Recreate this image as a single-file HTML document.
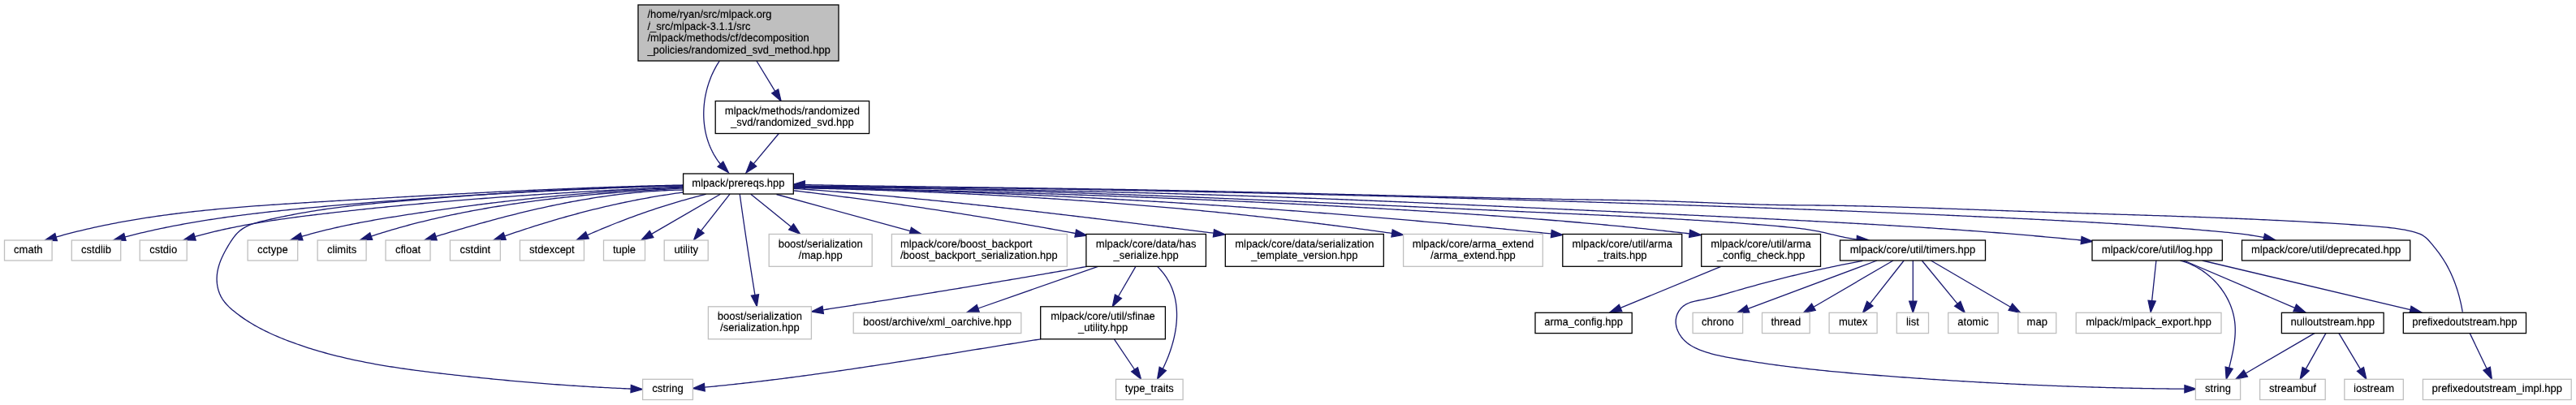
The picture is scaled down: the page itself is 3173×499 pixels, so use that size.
<!DOCTYPE html>
<html><head><meta charset="utf-8"><style>
html,body{margin:0;padding:0;background:#fff;width:3173px;height:499px;overflow:hidden}
svg{display:block;will-change:transform}
text{font-family:"Liberation Sans",sans-serif;font-size:13px;fill:#000}
.t2{fill-opacity:.45}
</style></head><body>
<svg width="3173" height="499" viewBox="0 0 3173 499">
<rect width="3173" height="499" fill="#fff"/>

<g fill="none" stroke="#191970" stroke-width="1.3" stroke-linejoin="round">
<path d="M931.9,75 L954.66,112.41"/>
<path d="M886.3,75 L884.49,77.81 L882.76,80.67 L881.12,83.6 L879.56,86.58 L878.09,89.61 L876.85,92.34 L875.68,95.11 L874.57,97.91 L873.54,100.75 L872.58,103.61 L871.69,106.49 L870.87,109.4 L870.12,112.33 L869.45,115.28 L868.85,118.25 L868.32,121.23 L867.87,124.22 L867.5,127.22 L867.2,130.23 L866.97,133.24 L866.83,136.26 L866.76,139.27 L866.77,142.28 L866.86,145.29 L867.03,148.29 L867.28,151.28 L867.67,154.64 L868.15,157.97 L868.74,161.28 L869.43,164.57 L870.23,167.82 L871.14,171.05 L872.16,174.24 L873.28,177.4 L874.52,180.51 L875.87,183.57 L877.33,186.59 L878.9,189.56 L880.59,192.47 L882.39,195.32 L884.09,197.81 L885.88,200.24 L887.38,202.15"/>
<path d="M959.3,164.5 L928.18,201.86"/>
<path d="M841.5,228 L838.49,228.06 L835.48,228.13 L832.46,228.19 L829.45,228.26 L826.44,228.33 L823.43,228.4 L820.42,228.47 L817.41,228.55 L814.4,228.62 L811.39,228.7 L808.38,228.77 L805.37,228.85 L802.36,228.93 L799.35,229.01 L796.34,229.1 L793.33,229.18 L790.32,229.27 L787.32,229.36 L784.31,229.44 L781.3,229.53 L778.29,229.62 L775.28,229.72 L772.28,229.81 L769.27,229.91 L766.26,230 L763.26,230.1 L760.25,230.2 L757.24,230.3 L754.24,230.4 L751.23,230.5 L748.23,230.61 L745.22,230.71 L742.22,230.82 L739.21,230.92 L736.21,231.03 L733.2,231.14 L730.2,231.25 L727.19,231.37 L724.19,231.48 L721.18,231.59 L718.18,231.71 L715.18,231.82 L712.17,231.94 L709.17,232.06 L706.17,232.18 L703.16,232.3 L700.16,232.42 L697.16,232.55 L694.15,232.67 L691.15,232.79 L688.15,232.92 L685.15,233.05 L682.14,233.18 L679.14,233.31 L676.14,233.43 L673.14,233.57 L670.14,233.7 L667.13,233.83 L664.13,233.96 L661.13,234.1 L658.13,234.24 L655.13,234.37 L652.13,234.51 L649.12,234.65 L646.12,234.79 L643.12,234.93 L640.12,235.07 L637.12,235.21 L634.12,235.35 L631.12,235.5 L628.12,235.64 L625.12,235.79 L622.11,235.93 L619.11,236.08 L616.11,236.23 L613.11,236.37 L610.11,236.52 L607.11,236.67 L604.11,236.82 L601.11,236.98 L598.11,237.13 L595.11,237.28 L592.11,237.43 L589.11,237.59 L586.11,237.74 L583.11,237.9 L580.11,238.06 L577.11,238.21 L574.1,238.37 L571.1,238.53 L568.1,238.69 L565.1,238.85 L562.1,239.01 L559.1,239.17 L556.1,239.33 L553.1,239.49 L550.1,239.65 L547.1,239.82 L544.1,239.98 L541.1,240.15 L538.1,240.31 L535.09,240.48 L532.09,240.64 L529.09,240.81 L526.09,240.97 L523.09,241.14 L520.09,241.31 L517.09,241.48 L514.09,241.65 L511.08,241.82 L508.08,241.98 L505.08,242.15 L502.08,242.33 L499.08,242.5 L496.08,242.67 L493.07,242.84 L490.07,243.01 L487.07,243.18 L484.07,243.36 L481.06,243.53 L478.06,243.7 L475.06,243.88 L472.06,244.05 L469.05,244.22 L466.05,244.4 L463.05,244.57 L460.04,244.75 L457.04,244.93 L454.04,245.1 L451.03,245.28 L448.03,245.45 L445.03,245.63 L442.02,245.81 L439.02,245.98 L436.01,246.16 L433.01,246.34 L430,246.52 L427,246.69 L423.99,246.87 L420.99,247.05 L417.98,247.23 L414.98,247.41 L411.97,247.59 L408.96,247.76 L405.96,247.94 L402.95,248.12 L399.94,248.3 L396.94,248.48 L393.93,248.66 L390.92,248.84 L387.92,249.02 L384.91,249.2 L381.9,249.38 L378.89,249.56 L375.89,249.74 L372.88,249.93 L369.87,250.11 L366.86,250.3 L363.86,250.48 L360.85,250.67 L357.84,250.86 L354.83,251.05 L351.83,251.25 L348.82,251.44 L345.81,251.64 L342.8,251.83 L339.8,252.03 L336.79,252.24 L333.78,252.44 L330.78,252.65 L327.77,252.86 L324.77,253.07 L321.76,253.28 L318.76,253.5 L315.75,253.72 L312.75,253.94 L309.74,254.17 L306.74,254.4 L303.74,254.63 L300.74,254.86 L297.73,255.1 L294.73,255.35 L291.73,255.59 L288.73,255.84 L285.73,256.1 L282.73,256.35 L279.73,256.61 L276.74,256.88 L273.74,257.15 L270.74,257.42 L267.75,257.7 L264.75,257.99 L261.76,258.28 L258.76,258.57 L255.77,258.87 L252.78,259.17 L249.79,259.48 L246.8,259.79 L243.81,260.11 L240.82,260.43 L237.83,260.76 L234.84,261.1 L231.86,261.44 L228.87,261.78 L225.89,262.13 L222.91,262.49 L219.92,262.86 L216.94,263.23 L213.96,263.6 L210.98,263.99 L208.01,264.38 L205.03,264.77 L202.05,265.17 L199.08,265.58 L196.11,266 L193.13,266.42 L190.16,266.85 L187.19,267.29 L184.23,267.74 L181.26,268.19 L178.29,268.65 L175.33,269.12 L172.37,269.59 L169.41,270.08 L166.45,270.57 L163.49,271.07 L160.53,271.57 L157.57,272.09 L154.62,272.61 L151.67,273.14 L148.72,273.69 L145.77,274.23 L142.82,274.79 L139.87,275.36 L136.93,275.94 L133.98,276.52 L131.04,277.11 L128.1,277.72 L125.16,278.33 L122.23,278.95 L119.29,279.58 L116.36,280.23 L113.43,280.88 L110.5,281.54 L107.57,282.21 L104.64,282.89 L101.72,283.58 L98.8,284.28 L95.88,284.99 L92.96,285.71 L90.04,286.45 L87.13,287.19 L84.21,287.94 L81.3,288.71 L78.39,289.49 L75.49,290.27 L72.58,291.07 L69.68,291.88 L69.12,292.04"/>
<path d="M841.5,228.5 L838.5,228.6 L835.5,228.7 L832.5,228.8 L829.5,228.9 L826.5,229 L823.51,229.11 L820.51,229.21 L817.51,229.32 L814.51,229.42 L811.51,229.53 L808.51,229.64 L805.51,229.74 L802.51,229.85 L799.51,229.96 L796.51,230.07 L793.51,230.19 L790.51,230.3 L787.51,230.41 L784.51,230.53 L781.51,230.64 L778.51,230.76 L775.51,230.88 L772.5,230.99 L769.5,231.11 L766.5,231.23 L763.5,231.35 L760.5,231.48 L757.5,231.6 L754.5,231.72 L751.5,231.85 L748.5,231.97 L745.5,232.1 L742.5,232.23 L739.49,232.35 L736.49,232.48 L733.49,232.61 L730.49,232.75 L727.49,232.88 L724.49,233.01 L721.49,233.15 L718.49,233.28 L715.48,233.42 L712.48,233.55 L709.48,233.69 L706.48,233.83 L703.48,233.97 L700.48,234.11 L697.48,234.26 L694.47,234.4 L691.47,234.54 L688.47,234.69 L685.47,234.84 L682.47,234.98 L679.47,235.13 L676.47,235.28 L673.46,235.43 L670.46,235.58 L667.46,235.74 L664.46,235.89 L661.46,236.05 L658.46,236.2 L655.46,236.36 L652.46,236.52 L649.45,236.68 L646.45,236.84 L643.45,237 L640.45,237.16 L637.45,237.33 L634.45,237.49 L631.45,237.66 L628.45,237.82 L625.45,237.99 L622.44,238.16 L619.44,238.33 L616.44,238.51 L613.44,238.68 L610.44,238.85 L607.44,239.03 L604.44,239.21 L601.44,239.38 L598.44,239.56 L595.44,239.74 L592.44,239.92 L589.44,240.11 L586.44,240.29 L583.44,240.47 L580.44,240.66 L577.44,240.85 L574.44,241.04 L571.44,241.23 L568.44,241.42 L565.44,241.61 L562.44,241.8 L559.44,242 L556.44,242.19 L553.44,242.39 L550.44,242.59 L547.44,242.79 L544.44,242.99 L541.44,243.19 L538.44,243.4 L535.45,243.6 L532.45,243.81 L529.45,244.02 L526.45,244.23 L523.45,244.44 L520.45,244.65 L517.46,244.86 L514.46,245.07 L511.46,245.29 L508.46,245.51 L505.47,245.72 L502.47,245.94 L499.47,246.17 L496.47,246.39 L493.48,246.61 L490.48,246.84 L487.48,247.06 L484.49,247.29 L481.49,247.52 L478.49,247.75 L475.5,247.98 L472.5,248.21 L469.51,248.45 L466.51,248.68 L463.51,248.92 L460.52,249.16 L457.52,249.4 L454.53,249.64 L451.53,249.88 L448.54,250.13 L445.54,250.38 L442.55,250.62 L439.55,250.87 L436.56,251.12 L433.57,251.37 L430.57,251.63 L427.58,251.88 L424.59,252.14 L421.59,252.39 L418.6,252.65 L415.61,252.91 L412.61,253.18 L409.62,253.44 L406.63,253.7 L403.64,253.97 L400.65,254.24 L397.65,254.51 L394.66,254.78 L391.67,255.05 L388.68,255.33 L385.69,255.6 L382.7,255.88 L379.71,256.16 L376.72,256.44 L373.73,256.73 L370.74,257.02 L367.75,257.31 L364.76,257.6 L361.78,257.89 L358.79,258.19 L355.8,258.49 L352.81,258.8 L349.83,259.11 L346.84,259.42 L343.86,259.73 L340.87,260.05 L337.89,260.37 L334.9,260.7 L331.92,261.02 L328.94,261.36 L325.96,261.69 L322.97,262.04 L319.99,262.38 L317.01,262.73 L314.03,263.08 L311.05,263.44 L308.07,263.81 L305.1,264.17 L302.12,264.55 L299.14,264.93 L296.17,265.31 L293.19,265.7 L290.22,266.09 L287.25,266.49 L284.27,266.89 L280.31,267.44 L276.35,268 L272.39,268.57 L268.43,269.15 L265.47,269.59 L262.5,270.04 L259.53,270.49 L256.57,270.96 L253.61,271.42 L250.64,271.9 L247.68,272.38 L244.72,272.87 L241.76,273.36 L238.8,273.87 L235.84,274.38 L232.89,274.89 L229.93,275.42 L226.98,275.95 L224.02,276.49 L221.07,277.04 L218.12,277.59 L215.17,278.16 L212.22,278.73 L209.28,279.31 L206.33,279.9 L203.38,280.49 L200.44,281.1 L197.5,281.71 L194.56,282.34 L191.62,282.97 L188.68,283.61 L185.74,284.26 L182.8,284.92 L179.87,285.58 L176.93,286.26 L174,286.95 L171.07,287.64 L168.14,288.35 L165.21,289.07 L162.29,289.79 L159.36,290.53 L156.44,291.28 L153.9,291.93"/>
<path d="M841.5,230 L838.5,230.13 L835.5,230.27 L832.51,230.41 L829.51,230.55 L826.51,230.68 L823.51,230.82 L820.51,230.96 L817.52,231.1 L814.52,231.25 L811.52,231.39 L808.52,231.53 L805.52,231.68 L802.52,231.82 L799.52,231.97 L796.52,232.11 L793.52,232.26 L790.53,232.41 L787.53,232.56 L784.53,232.71 L781.53,232.86 L778.53,233.01 L775.53,233.17 L772.53,233.32 L769.53,233.48 L766.53,233.63 L763.53,233.79 L760.53,233.95 L757.53,234.11 L754.53,234.27 L751.52,234.43 L748.52,234.59 L745.52,234.76 L742.52,234.92 L739.52,235.09 L736.52,235.26 L733.52,235.42 L730.52,235.59 L727.52,235.76 L724.52,235.93 L721.52,236.11 L718.52,236.28 L715.52,236.45 L712.52,236.63 L709.51,236.81 L706.51,236.99 L703.51,237.16 L700.51,237.35 L697.51,237.53 L694.51,237.71 L691.51,237.89 L688.51,238.08 L685.51,238.27 L682.51,238.45 L679.51,238.64 L676.5,238.83 L673.5,239.03 L670.5,239.22 L667.5,239.41 L664.5,239.61 L661.5,239.81 L658.5,240 L655.5,240.2 L652.5,240.41 L649.5,240.61 L646.5,240.81 L643.5,241.02 L640.5,241.22 L637.5,241.43 L634.5,241.64 L631.5,241.85 L628.5,242.06 L625.5,242.28 L622.5,242.49 L619.5,242.71 L616.5,242.93 L613.5,243.15 L610.5,243.37 L607.5,243.59 L604.5,243.81 L601.5,244.04 L598.51,244.27 L595.51,244.5 L592.51,244.73 L589.51,244.96 L586.51,245.19 L583.51,245.42 L580.52,245.66 L577.52,245.9 L574.52,246.14 L571.52,246.38 L568.52,246.62 L565.53,246.87 L562.53,247.11 L559.53,247.36 L556.54,247.61 L553.54,247.86 L550.54,248.11 L547.55,248.37 L544.55,248.62 L541.55,248.88 L538.56,249.14 L535.56,249.4 L532.57,249.66 L529.57,249.93 L526.58,250.2 L523.58,250.46 L520.59,250.73 L517.59,251 L514.6,251.28 L511.6,251.55 L508.61,251.83 L505.62,252.11 L502.62,252.39 L499.63,252.67 L496.64,252.96 L493.64,253.24 L490.65,253.53 L487.66,253.82 L484.67,254.11 L481.68,254.41 L478.68,254.7 L475.69,255 L472.7,255.3 L469.71,255.6 L466.72,255.9 L463.73,256.21 L460.74,256.52 L457.75,256.83 L454.76,257.14 L451.77,257.45 L448.78,257.76 L445.79,258.08 L442.81,258.4 L439.82,258.72 L436.83,259.05 L433.84,259.37 L430.86,259.7 L427.87,260.03 L424.88,260.36 L421.9,260.69 L418.91,261.03 L415.93,261.37 L412.94,261.71 L409.95,262.05 L406.97,262.39 L403.99,262.74 L401,263.09 L398.02,263.44 L395.04,263.79 L392.05,264.14 L389.07,264.5 L386.09,264.86 L383.11,265.23 L380.13,265.6 L377.15,265.97 L374.17,266.34 L371.19,266.72 L368.21,267.11 L365.23,267.5 L362.26,267.89 L359.28,268.29 L356.31,268.69 L353.33,269.1 L350.36,269.52 L347.39,269.94 L344.42,270.37 L341.45,270.8 L338.48,271.25 L335.51,271.69 L332.55,272.15 L329.58,272.61 L326.62,273.09 L323.66,273.56 L320.7,274.05 L317.74,274.55 L314.78,275.05 L311.83,275.57 L308.87,276.09 L305.92,276.62 L302.97,277.16 L300.02,277.71 L297.07,278.28 L294.13,278.85 L291.18,279.43 L288.24,280.02 L285.3,280.63 L282.36,281.24 L279.43,281.87 L276.49,282.51 L273.56,283.16 L270.63,283.83 L267.7,284.5 L264.78,285.19 L261.85,285.89 L258.93,286.61 L256.01,287.33 L253.1,288.08 L250.18,288.83 L247.27,289.6 L244.36,290.38 L241.46,291.18 L239.91,291.61"/>
<path d="M841.5,231 L838.5,231.12 L835.5,231.24 L832.5,231.36 L829.5,231.49 L826.5,231.62 L823.5,231.76 L820.5,231.9 L817.5,232.04 L814.5,232.18 L811.5,232.33 L808.5,232.49 L805.5,232.64 L802.5,232.8 L799.5,232.96 L796.5,233.13 L793.5,233.29 L790.5,233.47 L787.5,233.64 L784.51,233.82 L781.51,234 L778.51,234.19 L775.51,234.38 L772.51,234.57 L769.51,234.76 L766.51,234.96 L763.51,235.16 L760.51,235.37 L757.51,235.57 L754.51,235.78 L751.52,236 L748.52,236.22 L745.52,236.44 L742.52,236.66 L739.52,236.89 L736.53,237.12 L733.53,237.35 L730.53,237.59 L727.53,237.83 L724.54,238.07 L721.54,238.32 L718.54,238.56 L715.55,238.82 L712.55,239.07 L709.55,239.33 L706.56,239.59 L703.56,239.86 L700.57,240.12 L697.57,240.39 L694.57,240.67 L691.58,240.95 L688.58,241.22 L685.59,241.51 L682.6,241.79 L679.6,242.08 L676.61,242.37 L673.61,242.67 L670.62,242.97 L667.63,243.27 L664.63,243.57 L661.64,243.88 L658.65,244.19 L655.66,244.5 L652.67,244.82 L649.67,245.14 L646.68,245.46 L643.69,245.78 L640.7,246.11 L637.71,246.44 L634.72,246.78 L631.73,247.11 L628.74,247.45 L625.75,247.8 L622.76,248.14 L619.78,248.49 L616.79,248.84 L613.8,249.19 L610.81,249.55 L607.83,249.91 L604.84,250.27 L601.85,250.64 L598.87,251.01 L595.88,251.38 L592.9,251.75 L589.91,252.13 L586.93,252.51 L583.94,252.89 L580.96,253.27 L577.98,253.66 L574.99,254.05 L572.01,254.44 L569.03,254.84 L566.05,255.24 L563.07,255.64 L560.09,256.04 L557.11,256.45 L554.13,256.86 L551.15,257.27 L548.17,257.69 L545.19,258.11 L542.21,258.53 L539.24,258.95 L536.26,259.37 L533.28,259.8 L530.31,260.23 L527.33,260.67 L524.36,261.1 L521.38,261.54 L518.41,261.99 L515.44,262.43 L512.46,262.88 L509.49,263.33 L506.52,263.78 L503.55,264.23 L500.58,264.69 L497.61,265.15 L494.64,265.61 L491.67,266.08 L488.7,266.55 L485.74,267.02 L482.77,267.5 L479.8,267.98 L476.84,268.46 L473.88,268.96 L470.91,269.45 L467.95,269.95 L464.99,270.46 L462.03,270.97 L459.08,271.49 L456.12,272.02 L453.16,272.55 L450.21,273.09 L447.26,273.64 L444.31,274.2 L441.36,274.76 L438.41,275.33 L435.47,275.91 L432.53,276.51 L429.58,277.11 L426.64,277.71 L423.71,278.33 L420.77,278.96 L417.84,279.6 L414.91,280.25 L411.98,280.92 L409.05,281.59 L406.13,282.28 L403.21,282.97 L400.29,283.68 L397.37,284.41 L394.46,285.14 L391.55,285.89 L388.64,286.65 L385.73,287.43 L382.83,288.22 L379.93,289.02 L377.03,289.84 L374.14,290.68 L371.65,291.41"/>
<path d="M841.5,232 L837.51,232.2 L833.52,232.41 L829.53,232.62 L825.54,232.84 L821.54,233.06 L818.55,233.23 L815.55,233.4 L812.55,233.57 L809.56,233.75 L806.56,233.93 L803.56,234.11 L800.56,234.3 L797.56,234.49 L794.56,234.68 L791.56,234.88 L788.56,235.08 L785.56,235.28 L782.56,235.49 L779.55,235.7 L776.55,235.91 L773.55,236.13 L770.55,236.35 L767.54,236.57 L764.54,236.8 L761.54,237.03 L758.54,237.26 L755.53,237.5 L752.53,237.75 L749.53,237.99 L746.52,238.24 L743.52,238.5 L740.52,238.76 L737.52,239.02 L734.51,239.29 L731.51,239.56 L728.51,239.83 L725.51,240.11 L722.5,240.4 L719.5,240.69 L716.5,240.98 L713.5,241.28 L710.5,241.58 L707.5,241.89 L704.5,242.2 L701.5,242.52 L698.5,242.84 L695.5,243.17 L692.5,243.5 L689.51,243.83 L686.51,244.17 L683.51,244.52 L680.52,244.87 L677.52,245.23 L674.53,245.59 L671.53,245.96 L668.54,246.33 L665.55,246.71 L662.56,247.09 L659.57,247.48 L656.58,247.88 L653.59,248.28 L650.6,248.68 L647.61,249.09 L644.62,249.51 L641.64,249.93 L638.65,250.36 L635.67,250.8 L632.69,251.24 L629.71,251.68 L626.73,252.14 L623.75,252.59 L620.77,253.06 L617.79,253.53 L614.82,254.01 L611.84,254.49 L608.87,254.98 L605.9,255.48 L602.93,255.98 L599.96,256.49 L596.99,257.01 L594.02,257.53 L591.06,258.06 L588.09,258.59 L585.13,259.14 L582.17,259.69 L579.21,260.24 L576.25,260.81 L573.3,261.38 L570.34,261.96 L567.39,262.55 L564.44,263.14 L561.49,263.74 L558.54,264.35 L555.6,264.97 L552.65,265.59 L549.71,266.23 L546.77,266.87 L543.83,267.52 L540.9,268.17 L537.97,268.84 L535.03,269.51 L532.11,270.19 L529.18,270.89 L526.25,271.59 L523.33,272.29 L520.41,273.01 L517.49,273.74 L514.58,274.47 L511.66,275.22 L508.75,275.97 L505.84,276.73 L502.94,277.5 L500.03,278.29 L497.13,279.08 L494.24,279.88 L491.34,280.69 L488.45,281.51 L485.56,282.34 L482.67,283.18 L479.78,284.03 L476.9,284.89 L474.02,285.76 L471.15,286.64 L468.27,287.53 L465.4,288.43 L462.54,289.34 L459.67,290.27 L457.24,291.06"/>
<path d="M841.5,234 L838.22,234.06 L834.93,234.13 L831.65,234.22 L828.38,234.33 L825.1,234.45 L821.83,234.58 L818.55,234.73 L815.28,234.9 L812.02,235.08 L808.75,235.27 L805.49,235.48 L802.22,235.71 L798.96,235.94 L795.71,236.2 L792.45,236.46 L789.19,236.74 L785.94,237.03 L782.69,237.34 L779.44,237.66 L776.2,237.99 L772.95,238.34 L769.71,238.7 L766.47,239.07 L763.23,239.46 L759.99,239.85 L756.76,240.26 L753.52,240.68 L750.29,241.12 L747.06,241.57 L743.84,242.02 L740.61,242.49 L737.39,242.98 L734.16,243.47 L730.94,243.97 L727.72,244.49 L724.51,245.02 L721.29,245.56 L718.08,246.11 L714.87,246.67 L711.66,247.24 L708.45,247.82 L705.25,248.41 L702.04,249.01 L698.84,249.62 L695.64,250.24 L692.44,250.88 L689.24,251.52 L686.05,252.17 L682.86,252.83 L679.67,253.5 L676.48,254.18 L673.29,254.87 L670.1,255.56 L666.92,256.27 L663.73,256.98 L660.55,257.7 L657.37,258.44 L654.2,259.17 L651.02,259.92 L647.85,260.68 L644.67,261.44 L641.5,262.21 L638.33,262.99 L635.17,263.78 L632,264.57 L628.84,265.37 L625.68,266.18 L622.51,266.99 L619.36,267.82 L616.2,268.64 L613.04,269.48 L609.89,270.32 L606.74,271.17 L603.59,272.02 L600.44,272.88 L597.29,273.75 L594.14,274.62 L591,275.49 L587.86,276.38 L584.71,277.26 L581.58,278.16 L578.44,279.06 L575.3,279.96 L572.17,280.87 L569.03,281.78 L565.9,282.7 L562.77,283.62 L559.64,284.54 L556.52,285.47 L553.39,286.41 L550.27,287.35 L547.15,288.29 L544.02,289.23 L540.91,290.18 L537.79,291.13 L536.85,291.42"/>
<path d="M841.5,237 L838.49,237.4 L835.48,237.81 L832.48,238.23 L829.48,238.67 L826.48,239.11 L823.48,239.56 L820.48,240.02 L817.49,240.49 L814.5,240.96 L811.51,241.45 L808.52,241.95 L805.54,242.46 L802.56,242.97 L799.58,243.5 L796.6,244.03 L793.62,244.57 L790.65,245.12 L787.68,245.69 L784.71,246.26 L781.74,246.83 L778.78,247.42 L775.81,248.02 L772.85,248.62 L769.9,249.24 L766.94,249.86 L763.98,250.49 L761.03,251.13 L758.08,251.78 L755.13,252.43 L752.19,253.1 L749.25,253.77 L746.3,254.45 L743.36,255.14 L740.43,255.84 L737.49,256.54 L734.56,257.26 L731.63,257.98 L728.7,258.71 L725.77,259.45 L722.85,260.19 L719.92,260.95 L717,261.71 L714.08,262.48 L711.17,263.25 L708.25,264.04 L705.34,264.83 L702.43,265.63 L699.52,266.44 L696.61,267.25 L693.7,268.07 L690.8,268.9 L687.9,269.74 L685,270.58 L682.1,271.43 L679.21,272.29 L676.31,273.15 L673.42,274.02 L670.53,274.9 L667.65,275.79 L664.76,276.68 L661.88,277.58 L658.99,278.49 L656.11,279.4 L653.23,280.32 L650.36,281.25 L647.48,282.18 L644.61,283.12 L641.74,284.07 L638.87,285.02 L636,285.98 L633.14,286.94 L630.27,287.91 L627.41,288.89 L624.55,289.87 L621.69,290.86 L621.67,290.87"/>
<path d="M869.7,239.2 L866.4,240.04 L863.1,240.9 L859.8,241.76 L856.51,242.64 L853.23,243.53 L849.94,244.43 L846.67,245.35 L843.39,246.27 L840.13,247.21 L836.86,248.16 L833.6,249.12 L830.34,250.09 L827.09,251.08 L823.85,252.07 L820.6,253.08 L817.36,254.1 L814.13,255.14 L810.9,256.18 L807.67,257.24 L804.45,258.31 L801.24,259.39 L798.02,260.48 L794.81,261.58 L791.61,262.7 L788.41,263.83 L785.21,264.96 L782.02,266.12 L778.84,267.28 L775.65,268.45 L772.48,269.64 L769.3,270.84 L766.13,272.05 L762.97,273.27 L759.8,274.51 L756.65,275.76 L753.5,277.01 L750.35,278.28 L747.2,279.57 L744.06,280.86 L740.93,282.17 L737.8,283.48 L734.67,284.81 L731.55,286.15 L728.43,287.51 L725.32,288.87 L723.41,289.72"/>
<path d="M887.3,239.2 L802.54,288.42"/>
<path d="M899,239.2 L863.47,284.31"/>
<path d="M911.2,239.2 L911.64,242.33 L912.07,245.46 L912.51,248.6 L912.96,251.73 L913.4,254.86 L913.84,257.99 L914.29,261.12 L914.74,264.25 L915.19,267.38 L915.64,270.51 L916.1,273.64 L916.55,276.77 L917.01,279.9 L917.47,283.03 L917.93,286.16 L918.4,289.28 L918.86,292.41 L919.33,295.54 L919.8,298.67 L920.27,301.79 L920.74,304.92 L921.22,308.05 L921.69,311.17 L922.17,314.3 L922.65,317.43 L923.14,320.55 L923.62,323.68 L924.11,326.8 L924.59,329.93 L925.08,333.05 L925.57,336.17 L926.07,339.3 L926.56,342.42 L927.06,345.54 L927.56,348.67 L928.06,351.79 L928.56,354.91 L929.06,358.03 L929.57,361.16 L929.95,363.49"/>
<path d="M924.8,239.2 L974.52,279.39"/>
<path d="M956.5,239.5 L1121.22,284.67"/>
<path d="M841.5,229 L838.49,229.04 L835.49,229.08 L832.48,229.12 L829.48,229.17 L826.48,229.22 L823.47,229.27 L820.47,229.32 L817.46,229.38 L814.46,229.44 L811.45,229.5 L808.45,229.56 L805.45,229.63 L802.44,229.7 L799.44,229.77 L796.44,229.85 L793.43,229.92 L790.43,230 L787.43,230.08 L784.42,230.17 L781.42,230.25 L778.42,230.34 L775.42,230.43 L772.41,230.53 L769.41,230.63 L766.41,230.72 L763.41,230.82 L760.4,230.93 L757.4,231.03 L754.4,231.14 L751.4,231.25 L748.4,231.37 L745.4,231.48 L742.4,231.6 L739.39,231.72 L736.39,231.84 L733.39,231.96 L730.39,232.09 L727.39,232.22 L724.39,232.35 L721.39,232.48 L718.39,232.61 L715.39,232.75 L712.39,232.89 L709.39,233.03 L706.39,233.17 L703.39,233.32 L700.39,233.47 L697.39,233.62 L694.39,233.77 L691.39,233.92 L688.39,234.08 L685.39,234.23 L682.39,234.39 L679.4,234.55 L676.4,234.72 L673.4,234.88 L670.4,235.05 L667.4,235.22 L664.4,235.39 L661.4,235.56 L658.4,235.74 L655.41,235.91 L652.41,236.09 L649.41,236.27 L646.41,236.45 L643.41,236.64 L640.42,236.82 L637.42,237.01 L634.42,237.2 L631.42,237.39 L628.43,237.58 L625.43,237.77 L622.43,237.97 L619.43,238.17 L616.44,238.37 L613.44,238.57 L610.44,238.77 L607.45,238.97 L604.45,239.18 L601.45,239.39 L598.46,239.59 L595.46,239.8 L592.46,240.02 L589.47,240.23 L586.47,240.44 L583.47,240.66 L580.48,240.88 L577.48,241.1 L574.48,241.32 L571.49,241.54 L568.49,241.76 L565.5,241.99 L562.5,242.22 L559.5,242.44 L556.51,242.67 L553.51,242.9 L550.52,243.14 L547.52,243.37 L544.53,243.6 L541.53,243.84 L538.54,244.08 L535.54,244.31 L532.55,244.55 L529.55,244.79 L526.55,245.04 L523.56,245.28 L520.56,245.52 L517.57,245.77 L514.57,246.02 L511.58,246.27 L508.58,246.51 L505.59,246.76 L502.6,247.02 L499.6,247.27 L496.61,247.52 L493.61,247.78 L490.62,248.03 L487.62,248.29 L484.63,248.55 L481.64,248.82 L478.64,249.08 L475.65,249.35 L472.66,249.62 L469.66,249.9 L466.67,250.18 L463.68,250.46 L460.69,250.74 L457.7,251.03 L454.71,251.33 L451.72,251.63 L448.74,251.94 L445.75,252.25 L442.76,252.56 L439.78,252.88 L436.8,253.21 L433.81,253.55 L430.83,253.89 L427.85,254.24 L424.87,254.59 L421.89,254.95 L418.91,255.32 L414.95,255.83 L410.98,256.35 L407.02,256.88 L403.06,257.43 L399.1,258 L395.15,258.58 L391.2,259.19 L387.25,259.8 L383.3,260.44 L379.36,261.1 L375.42,261.78 L371.49,262.47 L367.55,263.19 L363.62,263.92 L360.67,264.49 L357.72,265.06 L354.77,265.65 L351.82,266.24 L348.87,266.85 L345.91,267.46 L342.95,268.09 L339.98,268.72 L337.02,269.36 L334.04,270.01 L331.07,270.67 L328.08,271.34 L325.1,272.02 L322.12,272.72 L319.16,273.47 L316.23,274.27 L313.34,275.15 L309.58,276.45 L305.94,277.93 L302.44,279.64 L299.12,281.6 L296,283.85 L293.1,286.41 L290.42,289.28 L287.92,292.39 L286.14,294.85 L284.44,297.4 L282.78,300 L281.17,302.64 L279.6,305.31 L278.07,308 L276.6,310.71 L275.2,313.44 L273.87,316.2 L272.63,318.98 L271.49,321.79 L270.46,324.62 L269.55,327.48 L268.52,331.33 L267.75,335.23 L267.26,339.17 L267.06,343.15 L267.12,346.16 L267.35,349.17 L267.77,352.16 L268.37,355.12 L269.15,358.02 L270.49,361.78 L272.16,365.37 L274.18,368.77 L276.49,371.97 L279.07,374.99 L281.86,377.86 L284.06,379.92 L286.34,381.92 L288.68,383.85 L291.06,385.74 L293.46,387.58 L295.89,389.38 L298.36,391.14 L300.84,392.85 L303.35,394.52 L305.89,396.15 L308.45,397.75 L311.03,399.3 L313.64,400.82 L316.26,402.3 L318.91,403.74 L321.57,405.16 L324.25,406.54 L326.95,407.88 L329.66,409.2 L332.39,410.49 L335.13,411.75 L337.89,412.98 L340.65,414.18 L343.43,415.36 L346.22,416.52 L349.02,417.65 L351.82,418.75 L354.64,419.84 L357.46,420.91 L360.28,421.95 L363.11,422.98 L365.95,423.99 L368.79,424.98 L371.63,425.96 L374.48,426.91 L377.33,427.85 L380.19,428.77 L383.05,429.67 L385.92,430.56 L388.79,431.43 L392.63,432.56 L396.47,433.67 L400.32,434.75 L404.18,435.8 L408.04,436.82 L411.91,437.82 L415.78,438.79 L419.67,439.74 L423.55,440.67 L427.45,441.57 L431.35,442.44 L435.25,443.3 L439.16,444.13 L443.08,444.94 L447,445.73 L449.94,446.31 L452.89,446.88 L455.84,447.44 L458.79,447.98 L461.74,448.52 L464.7,449.05 L467.66,449.56 L470.62,450.07 L473.58,450.57 L476.54,451.06 L479.51,451.54 L482.48,452.01 L485.45,452.47 L488.42,452.92 L491.39,453.37 L494.37,453.81 L497.34,454.24 L500.32,454.67 L503.3,455.08 L506.28,455.5 L509.26,455.9 L512.24,456.3 L515.23,456.69 L518.21,457.08 L521.2,457.46 L524.18,457.84 L527.17,458.21 L530.16,458.58 L533.14,458.94 L536.13,459.3 L539.12,459.65 L542.11,460 L545.1,460.35 L548.09,460.69 L551.08,461.03 L554.07,461.37 L557.06,461.71 L560.05,462.04 L563.04,462.38 L566.03,462.7 L569.01,463.03 L572,463.36 L574.99,463.68 L577.98,464 L580.97,464.32 L583.96,464.63 L586.95,464.94 L589.94,465.25 L592.93,465.56 L595.92,465.86 L598.9,466.17 L601.89,466.47 L604.88,466.76 L607.87,467.06 L610.86,467.35 L613.85,467.64 L616.84,467.93 L619.83,468.21 L622.82,468.49 L625.81,468.77 L628.8,469.05 L631.79,469.32 L634.78,469.59 L637.77,469.86 L640.76,470.12 L643.75,470.39 L646.74,470.65 L649.73,470.9 L652.72,471.16 L655.71,471.41 L658.7,471.66 L661.69,471.9 L664.68,472.14 L667.68,472.38 L670.67,472.62 L673.66,472.86 L676.65,473.09 L679.64,473.32 L682.64,473.54 L685.63,473.76 L688.62,473.98 L691.62,474.2 L694.61,474.41 L697.61,474.62 L700.6,474.83 L703.59,475.03 L706.59,475.24 L709.58,475.43 L712.58,475.63 L715.58,475.82 L718.57,476.01 L721.57,476.2 L724.57,476.38 L727.56,476.56 L730.56,476.73 L733.56,476.91 L736.56,477.08 L739.55,477.24 L742.55,477.41 L745.55,477.57 L748.55,477.72 L751.55,477.88 L754.55,478.03 L757.56,478.17 L760.56,478.32 L763.56,478.46 L766.56,478.59 L769.56,478.73 L772.57,478.86 L775.57,478.98 L777.11,479.05"/>
<path d="M977.4,234.8 L981.04,235.23 L984.69,235.67 L988.33,236.11 L991.97,236.55 L995.61,237 L999.26,237.44 L1002.9,237.89 L1006.54,238.34 L1010.18,238.8 L1013.82,239.25 L1017.46,239.71 L1021.1,240.17 L1024.74,240.64 L1028.38,241.1 L1032.02,241.57 L1035.65,242.04 L1039.29,242.52 L1042.93,242.99 L1046.57,243.47 L1050.2,243.95 L1053.84,244.44 L1057.47,244.92 L1061.11,245.41 L1064.75,245.9 L1068.38,246.39 L1072.01,246.89 L1075.65,247.39 L1079.28,247.89 L1082.91,248.39 L1086.55,248.9 L1090.18,249.41 L1093.81,249.92 L1097.44,250.43 L1101.07,250.94 L1104.71,251.46 L1108.34,251.98 L1111.97,252.5 L1115.6,253.03 L1119.23,253.56 L1122.85,254.09 L1126.48,254.62 L1130.11,255.15 L1133.74,255.69 L1137.37,256.23 L1140.99,256.77 L1144.62,257.32 L1148.25,257.87 L1151.87,258.41 L1155.5,258.97 L1159.12,259.52 L1162.75,260.08 L1166.37,260.64 L1170,261.2 L1173.62,261.76 L1177.24,262.33 L1180.87,262.9 L1184.49,263.47 L1188.11,264.05 L1191.73,264.62 L1195.35,265.2 L1198.98,265.78 L1202.6,266.37 L1206.22,266.95 L1209.84,267.54 L1213.46,268.13 L1217.08,268.73 L1220.69,269.32 L1224.31,269.92 L1227.93,270.52 L1231.55,271.13 L1235.17,271.73 L1238.78,272.34 L1242.4,272.95 L1246.01,273.56 L1249.63,274.18 L1253.25,274.8 L1256.86,275.42 L1260.48,276.04 L1264.09,276.67 L1267.7,277.3 L1271.32,277.93 L1274.93,278.56 L1278.54,279.19 L1282.16,279.83 L1285.77,280.47 L1289.38,281.11 L1292.99,281.76 L1296.6,282.41 L1300.21,283.06 L1303.82,283.71 L1307.43,284.36 L1311.04,285.02 L1314.65,285.68 L1318.26,286.34 L1321.87,287.01 L1324.75,287.54"/>
<path d="M977.4,232.3 L980.41,232.5 L983.41,232.71 L986.42,232.92 L989.42,233.13 L992.42,233.34 L995.43,233.55 L998.43,233.77 L1001.44,233.99 L1004.44,234.21 L1007.44,234.43 L1010.45,234.65 L1013.45,234.88 L1016.45,235.11 L1019.46,235.34 L1022.46,235.57 L1025.46,235.8 L1028.46,236.03 L1031.47,236.27 L1034.47,236.51 L1037.47,236.75 L1040.47,236.99 L1043.47,237.24 L1046.47,237.48 L1049.48,237.73 L1052.48,237.98 L1055.48,238.23 L1058.48,238.48 L1061.48,238.74 L1064.48,238.99 L1067.48,239.25 L1070.48,239.51 L1073.48,239.77 L1076.48,240.04 L1079.48,240.3 L1082.48,240.57 L1085.48,240.84 L1088.47,241.1 L1091.47,241.38 L1094.47,241.65 L1097.47,241.92 L1100.47,242.2 L1103.47,242.48 L1106.47,242.75 L1109.46,243.03 L1112.46,243.32 L1115.46,243.6 L1118.46,243.88 L1121.45,244.17 L1124.45,244.46 L1127.45,244.75 L1130.44,245.04 L1133.44,245.33 L1136.44,245.62 L1139.43,245.92 L1142.43,246.21 L1145.43,246.51 L1148.42,246.81 L1151.42,247.11 L1154.42,247.41 L1157.41,247.71 L1160.41,248.02 L1163.4,248.32 L1166.4,248.63 L1169.39,248.94 L1172.39,249.25 L1175.38,249.56 L1178.38,249.87 L1181.37,250.18 L1184.37,250.5 L1187.36,250.81 L1190.36,251.13 L1193.35,251.44 L1196.34,251.76 L1199.34,252.08 L1202.33,252.4 L1205.33,252.73 L1208.32,253.05 L1211.31,253.37 L1214.31,253.7 L1217.3,254.02 L1220.29,254.35 L1223.29,254.68 L1226.28,255.01 L1229.27,255.34 L1232.26,255.67 L1235.26,256 L1238.25,256.34 L1241.24,256.67 L1244.23,257.01 L1247.23,257.34 L1250.22,257.68 L1253.21,258.02 L1256.2,258.36 L1259.19,258.7 L1262.19,259.04 L1265.18,259.38 L1268.17,259.72 L1271.16,260.07 L1274.15,260.41 L1277.14,260.75 L1280.14,261.1 L1283.13,261.45 L1286.12,261.79 L1289.11,262.14 L1292.1,262.49 L1295.09,262.84 L1298.08,263.19 L1301.07,263.54 L1304.06,263.89 L1307.05,264.25 L1310.04,264.6 L1313.03,264.95 L1316.02,265.31 L1319.02,265.66 L1322.01,266.02 L1325,266.37 L1327.99,266.73 L1330.98,267.09 L1333.97,267.45 L1336.96,267.8 L1339.95,268.16 L1342.93,268.52 L1345.92,268.88 L1348.91,269.24 L1351.9,269.6 L1354.89,269.97 L1357.88,270.33 L1360.87,270.69 L1363.86,271.05 L1366.85,271.42 L1369.84,271.78 L1372.83,272.14 L1375.82,272.51 L1378.81,272.87 L1381.8,273.24 L1384.79,273.61 L1387.77,273.97 L1390.76,274.34 L1393.75,274.7 L1396.74,275.07 L1399.73,275.44 L1402.72,275.81 L1405.71,276.17 L1408.7,276.54 L1411.68,276.91 L1414.67,277.28 L1417.66,277.65 L1420.65,278.02 L1423.64,278.39 L1426.63,278.76 L1429.62,279.13 L1432.6,279.5 L1435.59,279.87 L1438.58,280.24 L1441.57,280.61 L1444.56,280.98 L1447.55,281.35 L1450.53,281.72 L1453.52,282.09 L1456.51,282.46 L1459.5,282.83 L1462.49,283.2 L1465.47,283.57 L1468.46,283.94 L1471.45,284.31 L1474.44,284.68 L1477.43,285.05 L1480.42,285.42 L1483.4,285.79 L1486.39,286.16 L1489.38,286.53 L1492.37,286.9 L1494.91,287.22"/>
<path d="M977.4,231.5 L980.4,231.56 L983.41,231.63 L986.41,231.69 L989.41,231.76 L992.41,231.82 L995.42,231.89 L998.42,231.96 L1001.42,232.03 L1004.43,232.1 L1007.43,232.17 L1010.43,232.25 L1013.43,232.32 L1016.44,232.4 L1019.44,232.47 L1022.44,232.55 L1025.45,232.63 L1028.45,232.71 L1031.45,232.79 L1034.45,232.87 L1037.46,232.96 L1040.46,233.04 L1043.46,233.13 L1046.47,233.22 L1049.47,233.3 L1052.47,233.39 L1055.48,233.48 L1058.48,233.58 L1061.48,233.67 L1064.48,233.76 L1067.49,233.86 L1070.49,233.96 L1073.49,234.05 L1076.5,234.15 L1079.5,234.25 L1082.5,234.35 L1085.51,234.46 L1088.51,234.56 L1091.51,234.67 L1094.51,234.77 L1097.52,234.88 L1100.52,234.99 L1103.52,235.1 L1106.52,235.21 L1109.53,235.32 L1112.53,235.43 L1115.53,235.55 L1118.54,235.67 L1121.54,235.78 L1124.54,235.9 L1127.54,236.02 L1130.55,236.14 L1133.55,236.26 L1136.55,236.39 L1139.55,236.51 L1142.56,236.64 L1145.56,236.77 L1148.56,236.9 L1151.56,237.03 L1154.57,237.16 L1157.57,237.29 L1160.57,237.42 L1163.57,237.56 L1166.57,237.69 L1169.58,237.83 L1172.58,237.97 L1175.58,238.11 L1178.58,238.25 L1181.58,238.39 L1184.59,238.54 L1187.59,238.68 L1190.59,238.83 L1193.59,238.98 L1196.59,239.13 L1199.59,239.28 L1202.6,239.43 L1205.6,239.58 L1208.6,239.74 L1211.6,239.89 L1214.6,240.05 L1217.6,240.21 L1220.6,240.37 L1223.6,240.53 L1226.6,240.69 L1229.61,240.86 L1232.61,241.02 L1235.61,241.19 L1238.61,241.36 L1241.61,241.53 L1244.61,241.7 L1247.61,241.87 L1250.61,242.04 L1253.61,242.22 L1256.61,242.4 L1259.61,242.57 L1262.61,242.75 L1265.61,242.93 L1268.61,243.11 L1271.61,243.3 L1274.61,243.48 L1277.61,243.67 L1280.61,243.86 L1283.61,244.04 L1286.61,244.23 L1289.61,244.43 L1292.61,244.62 L1295.61,244.81 L1298.6,245.01 L1301.6,245.21 L1304.6,245.4 L1307.6,245.61 L1310.6,245.81 L1313.6,246.01 L1316.6,246.21 L1319.6,246.42 L1322.59,246.63 L1325.59,246.84 L1328.59,247.05 L1331.59,247.26 L1334.59,247.47 L1337.58,247.68 L1340.58,247.9 L1343.58,248.12 L1346.58,248.34 L1349.57,248.56 L1352.57,248.78 L1355.57,249 L1358.56,249.23 L1361.56,249.45 L1364.56,249.68 L1367.55,249.91 L1370.55,250.14 L1373.55,250.37 L1376.54,250.61 L1379.54,250.84 L1382.53,251.08 L1385.53,251.32 L1388.53,251.56 L1391.52,251.8 L1394.52,252.04 L1397.51,252.28 L1400.51,252.53 L1403.5,252.78 L1406.5,253.03 L1409.49,253.28 L1412.49,253.53 L1415.48,253.78 L1418.47,254.04 L1421.47,254.29 L1424.46,254.55 L1427.46,254.81 L1430.45,255.07 L1433.44,255.33 L1436.44,255.6 L1439.43,255.86 L1442.42,256.13 L1445.42,256.4 L1448.41,256.67 L1451.4,256.94 L1454.4,257.22 L1457.39,257.49 L1460.38,257.77 L1463.37,258.05 L1466.36,258.33 L1469.36,258.61 L1472.35,258.89 L1475.34,259.18 L1478.33,259.46 L1481.32,259.75 L1484.31,260.04 L1487.3,260.33 L1490.29,260.62 L1493.28,260.92 L1496.27,261.21 L1499.26,261.51 L1502.25,261.81 L1505.24,262.11 L1508.23,262.41 L1511.22,262.72 L1514.21,263.02 L1517.2,263.33 L1520.19,263.64 L1523.18,263.95 L1526.17,264.26 L1529.16,264.57 L1532.14,264.89 L1535.13,265.21 L1538.12,265.53 L1541.11,265.85 L1544.09,266.17 L1547.08,266.49 L1550.07,266.82 L1553.06,267.14 L1556.04,267.47 L1559.03,267.8 L1562.01,268.14 L1565,268.47 L1567.99,268.8 L1570.97,269.14 L1573.96,269.48 L1576.94,269.82 L1579.93,270.16 L1582.91,270.51 L1585.9,270.85 L1588.88,271.2 L1591.87,271.55 L1594.85,271.9 L1597.83,272.25 L1600.82,272.61 L1603.8,272.96 L1606.78,273.32 L1609.77,273.68 L1612.75,274.04 L1615.73,274.4 L1618.72,274.77 L1621.7,275.13 L1624.68,275.5 L1627.66,275.87 L1630.64,276.24 L1633.62,276.62 L1636.6,276.99 L1639.59,277.37 L1642.57,277.75 L1645.55,278.13 L1648.53,278.51 L1651.51,278.89 L1654.49,279.28 L1657.47,279.66 L1660.44,280.05 L1663.42,280.44 L1666.4,280.84 L1669.38,281.23 L1672.36,281.63 L1675.34,282.03 L1678.32,282.43 L1681.29,282.83 L1684.27,283.23 L1687.25,283.64 L1690.22,284.04 L1693.2,284.45 L1696.18,284.86 L1699.15,285.28 L1702.13,285.69 L1705.1,286.11 L1708.08,286.52 L1711.05,286.94 L1714.03,287.36 L1714.55,287.44"/>
<path d="M977.4,231 L980.41,231.05 L983.41,231.11 L986.42,231.16 L989.42,231.22 L992.43,231.27 L995.44,231.33 L998.44,231.39 L1001.45,231.45 L1004.45,231.51 L1007.46,231.57 L1010.46,231.63 L1013.47,231.7 L1016.48,231.76 L1019.48,231.82 L1022.49,231.89 L1025.49,231.95 L1028.5,232.02 L1031.5,232.09 L1034.51,232.16 L1037.51,232.23 L1040.52,232.3 L1043.53,232.37 L1046.53,232.44 L1049.54,232.52 L1052.54,232.59 L1055.55,232.67 L1058.55,232.74 L1061.56,232.82 L1064.56,232.9 L1067.57,232.97 L1070.57,233.05 L1073.58,233.13 L1076.58,233.22 L1079.59,233.3 L1082.59,233.38 L1085.6,233.46 L1088.6,233.55 L1091.61,233.63 L1094.61,233.72 L1097.62,233.81 L1100.62,233.9 L1103.63,233.98 L1106.63,234.07 L1109.64,234.16 L1112.64,234.26 L1115.65,234.35 L1118.65,234.44 L1121.66,234.54 L1124.66,234.63 L1127.67,234.73 L1130.67,234.82 L1133.67,234.92 L1136.68,235.02 L1139.68,235.12 L1142.69,235.22 L1145.69,235.32 L1148.7,235.42 L1151.7,235.52 L1154.71,235.63 L1157.71,235.73 L1160.71,235.84 L1163.72,235.94 L1166.72,236.05 L1169.73,236.16 L1172.73,236.27 L1175.73,236.38 L1178.74,236.49 L1181.74,236.6 L1184.75,236.71 L1187.75,236.82 L1190.75,236.94 L1193.76,237.05 L1196.76,237.17 L1199.77,237.28 L1202.77,237.4 L1205.77,237.52 L1208.78,237.64 L1211.78,237.76 L1214.78,237.88 L1217.79,238 L1220.79,238.12 L1223.79,238.25 L1226.8,238.37 L1229.8,238.5 L1232.8,238.62 L1235.81,238.75 L1238.81,238.87 L1241.81,239 L1244.82,239.13 L1247.82,239.26 L1250.82,239.39 L1253.83,239.52 L1256.83,239.66 L1259.83,239.79 L1262.84,239.92 L1265.84,240.06 L1268.84,240.2 L1271.84,240.33 L1274.85,240.47 L1277.85,240.61 L1280.85,240.75 L1283.86,240.89 L1286.86,241.03 L1289.86,241.17 L1292.86,241.31 L1295.87,241.46 L1298.87,241.6 L1301.87,241.75 L1304.87,241.89 L1307.88,242.04 L1310.88,242.19 L1313.88,242.33 L1316.88,242.48 L1319.88,242.63 L1322.89,242.79 L1325.89,242.94 L1328.89,243.09 L1331.89,243.24 L1334.89,243.4 L1337.9,243.55 L1340.9,243.71 L1343.9,243.87 L1346.9,244.02 L1349.9,244.18 L1352.91,244.34 L1355.91,244.5 L1358.91,244.66 L1361.91,244.82 L1364.91,244.99 L1367.91,245.15 L1370.91,245.31 L1373.92,245.48 L1376.92,245.65 L1379.92,245.81 L1382.92,245.98 L1385.92,246.15 L1388.92,246.32 L1391.92,246.49 L1394.92,246.66 L1397.92,246.83 L1400.93,247 L1403.93,247.18 L1406.93,247.35 L1409.93,247.53 L1412.93,247.7 L1415.93,247.88 L1418.93,248.06 L1421.93,248.23 L1424.93,248.41 L1427.93,248.59 L1430.93,248.77 L1433.93,248.95 L1436.93,249.14 L1439.93,249.32 L1442.93,249.5 L1445.93,249.69 L1448.93,249.87 L1451.93,250.06 L1454.93,250.25 L1457.93,250.44 L1460.93,250.63 L1463.93,250.82 L1466.93,251.01 L1469.93,251.2 L1472.93,251.39 L1475.93,251.58 L1478.93,251.78 L1481.93,251.97 L1484.93,252.17 L1487.93,252.36 L1490.93,252.56 L1493.93,252.76 L1496.93,252.96 L1499.93,253.16 L1502.93,253.36 L1505.93,253.56 L1508.93,253.76 L1511.93,253.96 L1514.92,254.17 L1517.92,254.37 L1520.92,254.57 L1523.92,254.78 L1526.92,254.99 L1529.92,255.2 L1532.92,255.4 L1535.92,255.61 L1538.91,255.82 L1541.91,256.03 L1544.91,256.25 L1547.91,256.46 L1550.91,256.67 L1553.91,256.88 L1556.9,257.1 L1559.9,257.32 L1562.9,257.53 L1565.9,257.75 L1568.9,257.97 L1571.9,258.19 L1574.89,258.41 L1577.89,258.63 L1580.89,258.85 L1583.89,259.07 L1586.88,259.29 L1589.88,259.52 L1592.88,259.74 L1595.88,259.96 L1598.87,260.19 L1601.87,260.42 L1604.87,260.65 L1607.87,260.87 L1610.86,261.1 L1613.86,261.33 L1616.86,261.56 L1619.85,261.79 L1622.85,262.03 L1625.85,262.26 L1628.84,262.49 L1631.84,262.73 L1634.84,262.96 L1637.83,263.2 L1640.83,263.44 L1643.83,263.68 L1646.82,263.91 L1649.82,264.15 L1652.82,264.39 L1655.81,264.63 L1658.81,264.88 L1661.81,265.12 L1664.8,265.36 L1667.8,265.61 L1670.79,265.85 L1673.79,266.1 L1676.79,266.34 L1679.78,266.59 L1682.78,266.84 L1685.77,267.09 L1688.77,267.34 L1691.76,267.59 L1694.76,267.84 L1697.75,268.09 L1700.75,268.34 L1703.74,268.6 L1706.74,268.85 L1709.74,269.11 L1712.73,269.36 L1715.73,269.62 L1718.72,269.88 L1721.71,270.14 L1724.71,270.4 L1727.7,270.65 L1730.7,270.92 L1733.69,271.18 L1736.69,271.44 L1739.68,271.7 L1742.68,271.97 L1745.67,272.23 L1748.67,272.5 L1751.66,272.76 L1754.65,273.03 L1757.65,273.3 L1760.64,273.56 L1763.64,273.83 L1766.63,274.1 L1769.62,274.37 L1772.62,274.64 L1775.61,274.92 L1778.6,275.19 L1781.6,275.46 L1784.59,275.74 L1787.58,276.01 L1790.58,276.29 L1793.57,276.57 L1796.56,276.84 L1799.56,277.12 L1802.55,277.4 L1805.54,277.68 L1808.54,277.96 L1811.53,278.24 L1814.52,278.53 L1817.51,278.81 L1820.51,279.09 L1823.5,279.38 L1826.49,279.66 L1829.48,279.95 L1832.48,280.23 L1835.47,280.52 L1838.46,280.81 L1841.45,281.1 L1844.44,281.39 L1847.44,281.68 L1850.43,281.97 L1853.42,282.26 L1856.41,282.56 L1859.4,282.85 L1862.39,283.14 L1865.39,283.44 L1868.38,283.74 L1871.37,284.03 L1874.36,284.33 L1877.35,284.63 L1880.34,284.93 L1883.33,285.23 L1886.32,285.53 L1889.32,285.83 L1892.31,286.13 L1895.3,286.43 L1898.29,286.74 L1901.28,287.04 L1904.27,287.34 L1907.26,287.65 L1910.25,287.96 L1910.78,288.01"/>
<path d="M977.4,230.5 L980.4,230.56 L983.4,230.63 L986.41,230.69 L989.41,230.76 L992.41,230.82 L995.41,230.88 L998.41,230.95 L1001.41,231.01 L1004.42,231.08 L1007.42,231.15 L1010.42,231.21 L1013.42,231.28 L1016.42,231.34 L1019.42,231.41 L1022.43,231.48 L1025.43,231.55 L1028.43,231.61 L1031.43,231.68 L1034.43,231.75 L1037.43,231.82 L1040.44,231.89 L1043.44,231.96 L1046.44,232.03 L1049.44,232.1 L1052.44,232.17 L1055.45,232.24 L1058.45,232.31 L1061.45,232.38 L1064.45,232.45 L1067.45,232.52 L1070.45,232.6 L1073.46,232.67 L1076.46,232.74 L1079.46,232.81 L1082.46,232.89 L1085.46,232.96 L1088.46,233.03 L1091.47,233.11 L1094.47,233.18 L1097.47,233.26 L1100.47,233.33 L1103.47,233.41 L1106.48,233.48 L1109.48,233.56 L1112.48,233.64 L1115.48,233.71 L1118.48,233.79 L1121.48,233.87 L1124.49,233.95 L1127.49,234.03 L1130.49,234.1 L1133.49,234.18 L1136.49,234.26 L1139.49,234.34 L1142.5,234.42 L1145.5,234.5 L1148.5,234.58 L1151.5,234.66 L1154.5,234.74 L1157.5,234.83 L1160.51,234.91 L1163.51,234.99 L1166.51,235.07 L1169.51,235.16 L1172.51,235.24 L1175.52,235.32 L1178.52,235.41 L1181.52,235.49 L1184.52,235.58 L1187.52,235.66 L1190.52,235.75 L1193.53,235.84 L1196.53,235.92 L1199.53,236.01 L1202.53,236.1 L1205.53,236.18 L1208.53,236.27 L1211.54,236.36 L1214.54,236.45 L1217.54,236.54 L1220.54,236.63 L1223.54,236.72 L1226.54,236.81 L1229.54,236.9 L1232.55,236.99 L1235.55,237.08 L1238.55,237.17 L1241.55,237.27 L1244.55,237.36 L1247.55,237.45 L1250.56,237.54 L1253.56,237.64 L1256.56,237.73 L1259.56,237.83 L1262.56,237.92 L1265.56,238.02 L1268.56,238.11 L1271.57,238.21 L1274.57,238.31 L1277.57,238.4 L1280.57,238.5 L1283.57,238.6 L1286.57,238.7 L1289.57,238.8 L1292.58,238.9 L1295.58,239 L1298.58,239.1 L1301.58,239.2 L1304.58,239.3 L1307.58,239.4 L1310.58,239.5 L1313.59,239.6 L1316.59,239.71 L1319.59,239.81 L1322.59,239.91 L1325.59,240.02 L1328.59,240.12 L1331.59,240.23 L1334.59,240.33 L1337.59,240.44 L1340.6,240.54 L1343.6,240.65 L1346.6,240.76 L1349.6,240.87 L1352.6,240.97 L1355.6,241.08 L1358.6,241.19 L1361.6,241.3 L1364.6,241.41 L1367.61,241.52 L1370.61,241.63 L1373.61,241.74 L1376.61,241.86 L1379.61,241.97 L1382.61,242.08 L1385.61,242.19 L1388.61,242.31 L1391.61,242.42 L1394.61,242.54 L1397.62,242.65 L1400.62,242.77 L1403.62,242.88 L1406.62,243 L1409.62,243.12 L1412.62,243.23 L1415.62,243.35 L1418.62,243.47 L1421.62,243.59 L1424.62,243.71 L1427.62,243.83 L1430.62,243.95 L1433.62,244.07 L1436.62,244.19 L1439.63,244.31 L1442.63,244.44 L1445.63,244.56 L1448.63,244.68 L1451.63,244.81 L1454.63,244.93 L1457.63,245.06 L1460.63,245.18 L1463.63,245.31 L1466.63,245.44 L1469.63,245.56 L1472.63,245.69 L1475.63,245.82 L1478.63,245.95 L1481.63,246.08 L1484.63,246.21 L1487.63,246.34 L1490.63,246.47 L1493.63,246.6 L1496.63,246.73 L1499.63,246.86 L1502.63,246.99 L1505.63,247.13 L1508.63,247.26 L1511.63,247.4 L1514.63,247.53 L1517.63,247.67 L1520.63,247.8 L1523.63,247.94 L1526.63,248.08 L1529.63,248.21 L1532.63,248.35 L1535.63,248.49 L1538.63,248.63 L1541.63,248.77 L1544.63,248.91 L1547.63,249.05 L1550.63,249.19 L1553.63,249.33 L1556.63,249.48 L1559.63,249.62 L1562.63,249.76 L1565.63,249.91 L1568.63,250.05 L1571.63,250.2 L1574.63,250.34 L1577.63,250.49 L1580.63,250.64 L1583.63,250.79 L1586.63,250.93 L1589.63,251.08 L1592.63,251.23 L1595.63,251.38 L1598.62,251.53 L1601.62,251.68 L1604.62,251.84 L1607.62,251.99 L1610.62,252.14 L1613.62,252.3 L1616.62,252.45 L1619.62,252.6 L1622.62,252.76 L1625.62,252.92 L1628.62,253.07 L1631.62,253.23 L1634.61,253.39 L1637.61,253.55 L1640.61,253.7 L1643.61,253.86 L1646.61,254.02 L1649.61,254.18 L1652.61,254.35 L1655.61,254.51 L1658.61,254.67 L1661.6,254.83 L1664.6,255 L1667.6,255.16 L1670.6,255.33 L1673.6,255.49 L1676.6,255.66 L1679.6,255.83 L1682.59,255.99 L1685.59,256.16 L1688.59,256.33 L1691.59,256.5 L1694.59,256.67 L1697.59,256.84 L1700.58,257.01 L1703.58,257.18 L1706.58,257.36 L1709.58,257.53 L1712.58,257.7 L1715.57,257.88 L1718.57,258.05 L1721.57,258.23 L1724.57,258.4 L1727.57,258.58 L1730.56,258.76 L1733.56,258.94 L1736.56,259.12 L1739.56,259.3 L1742.55,259.48 L1745.55,259.66 L1748.55,259.85 L1751.55,260.03 L1754.54,260.21 L1757.54,260.4 L1760.54,260.58 L1763.54,260.77 L1766.53,260.96 L1769.53,261.15 L1772.53,261.34 L1775.52,261.53 L1778.52,261.72 L1781.52,261.91 L1784.52,262.11 L1787.51,262.3 L1790.51,262.5 L1793.51,262.69 L1796.5,262.89 L1799.5,263.09 L1802.49,263.29 L1805.49,263.49 L1808.49,263.69 L1811.48,263.89 L1814.48,264.09 L1817.47,264.3 L1820.47,264.5 L1823.47,264.71 L1826.46,264.92 L1829.46,265.13 L1832.45,265.34 L1835.45,265.55 L1838.44,265.76 L1841.44,265.98 L1844.43,266.19 L1847.43,266.41 L1850.42,266.62 L1853.42,266.84 L1856.41,267.06 L1859.41,267.28 L1862.4,267.5 L1865.39,267.73 L1868.39,267.95 L1871.38,268.18 L1874.38,268.4 L1877.37,268.63 L1880.36,268.86 L1883.36,269.09 L1886.35,269.33 L1889.34,269.56 L1892.34,269.79 L1895.33,270.03 L1898.32,270.27 L1901.32,270.51 L1904.31,270.75 L1907.3,270.99 L1910.29,271.23 L1913.29,271.48 L1916.28,271.73 L1919.27,271.97 L1922.26,272.22 L1925.25,272.47 L1928.24,272.73 L1931.24,272.98 L1934.23,273.24 L1937.22,273.49 L1940.21,273.75 L1943.2,274.01 L1946.19,274.27 L1949.18,274.53 L1952.17,274.8 L1955.16,275.07 L1958.15,275.33 L1961.14,275.6 L1964.13,275.87 L1967.12,276.15 L1970.11,276.42 L1973.1,276.7 L1976.09,276.98 L1979.08,277.26 L1982.07,277.54 L1985.05,277.82 L1988.04,278.1 L1991.03,278.39 L1994.02,278.68 L1997.01,278.97 L2000,279.26 L2002.98,279.55 L2005.97,279.85 L2008.96,280.15 L2011.94,280.44 L2014.93,280.75 L2017.92,281.05 L2020.9,281.35 L2023.89,281.66 L2026.88,281.97 L2029.86,282.28 L2032.85,282.59 L2035.83,282.9 L2038.82,283.22 L2041.8,283.54 L2044.79,283.86 L2047.77,284.18 L2050.76,284.5 L2053.74,284.83 L2056.73,285.15 L2059.71,285.48 L2062.69,285.82 L2065.68,286.15 L2068.66,286.48 L2071.64,286.82 L2074.63,287.16 L2077.61,287.5 L2080.59,287.85 L2081.1,287.91"/>
<path d="M977.4,230 L980.4,230.03 L983.41,230.05 L986.41,230.08 L989.42,230.11 L992.42,230.14 L995.43,230.17 L998.43,230.2 L1001.44,230.23 L1004.44,230.27 L1007.45,230.3 L1010.45,230.34 L1013.46,230.37 L1016.46,230.41 L1019.47,230.44 L1022.47,230.48 L1025.47,230.52 L1028.48,230.56 L1031.48,230.6 L1034.49,230.64 L1037.49,230.68 L1040.5,230.72 L1043.5,230.77 L1046.5,230.81 L1049.51,230.85 L1052.51,230.9 L1055.52,230.94 L1058.52,230.99 L1061.52,231.04 L1064.53,231.09 L1067.53,231.13 L1070.54,231.18 L1073.54,231.23 L1076.54,231.29 L1079.55,231.34 L1082.55,231.39 L1085.56,231.44 L1088.56,231.5 L1091.56,231.55 L1094.57,231.61 L1097.57,231.66 L1100.57,231.72 L1103.58,231.77 L1106.58,231.83 L1109.58,231.89 L1112.59,231.95 L1115.59,232.01 L1118.6,232.07 L1121.6,232.13 L1124.6,232.19 L1127.61,232.26 L1130.61,232.32 L1133.61,232.38 L1136.62,232.45 L1139.62,232.51 L1142.62,232.58 L1145.63,232.65 L1148.63,232.71 L1151.63,232.78 L1154.63,232.85 L1157.64,232.92 L1160.64,232.99 L1163.64,233.06 L1166.65,233.13 L1169.65,233.2 L1172.65,233.27 L1175.66,233.35 L1178.66,233.42 L1181.66,233.49 L1184.66,233.57 L1187.67,233.64 L1190.67,233.72 L1193.67,233.8 L1196.68,233.87 L1199.68,233.95 L1202.68,234.03 L1205.68,234.11 L1208.69,234.19 L1211.69,234.27 L1214.69,234.35 L1217.69,234.43 L1220.7,234.51 L1223.7,234.59 L1226.7,234.67 L1229.7,234.76 L1232.71,234.84 L1235.71,234.93 L1238.71,235.01 L1241.71,235.1 L1244.72,235.18 L1247.72,235.27 L1250.72,235.36 L1253.72,235.44 L1256.73,235.53 L1259.73,235.62 L1262.73,235.71 L1265.73,235.8 L1268.74,235.89 L1271.74,235.98 L1274.74,236.07 L1277.74,236.17 L1280.74,236.26 L1283.75,236.35 L1286.75,236.44 L1289.75,236.54 L1292.75,236.63 L1295.75,236.73 L1298.76,236.82 L1301.76,236.92 L1304.76,237.02 L1307.76,237.11 L1310.76,237.21 L1313.77,237.31 L1316.77,237.41 L1319.77,237.51 L1322.77,237.61 L1325.77,237.71 L1328.78,237.81 L1331.78,237.91 L1334.78,238.01 L1337.78,238.11 L1340.78,238.21 L1343.79,238.31 L1346.79,238.42 L1349.79,238.52 L1352.79,238.62 L1355.79,238.73 L1358.79,238.83 L1361.8,238.94 L1364.8,239.04 L1367.8,239.15 L1370.8,239.26 L1373.8,239.36 L1376.8,239.47 L1379.81,239.58 L1382.81,239.69 L1385.81,239.8 L1388.81,239.9 L1391.81,240.01 L1394.81,240.12 L1397.81,240.23 L1400.82,240.34 L1403.82,240.45 L1406.82,240.57 L1409.82,240.68 L1412.82,240.79 L1415.82,240.9 L1418.82,241.02 L1421.83,241.13 L1424.83,241.24 L1427.83,241.36 L1430.83,241.47 L1433.83,241.59 L1436.83,241.7 L1439.83,241.82 L1442.84,241.93 L1445.84,242.05 L1448.84,242.16 L1451.84,242.28 L1454.84,242.4 L1457.84,242.51 L1460.84,242.63 L1463.84,242.75 L1466.85,242.87 L1469.85,242.99 L1472.85,243.11 L1475.85,243.23 L1478.85,243.35 L1481.85,243.47 L1484.85,243.59 L1487.85,243.71 L1490.86,243.83 L1493.86,243.95 L1496.86,244.07 L1499.86,244.19 L1502.86,244.32 L1505.86,244.44 L1508.86,244.56 L1511.86,244.68 L1514.86,244.81 L1517.87,244.93 L1520.87,245.05 L1523.87,245.18 L1526.87,245.3 L1529.87,245.43 L1532.87,245.55 L1535.87,245.68 L1538.87,245.8 L1541.87,245.93 L1544.87,246.05 L1547.88,246.18 L1550.88,246.31 L1553.88,246.43 L1556.88,246.56 L1559.88,246.69 L1562.88,246.81 L1565.88,246.94 L1568.88,247.07 L1571.88,247.2 L1574.88,247.33 L1577.89,247.45 L1580.89,247.58 L1583.89,247.71 L1586.89,247.84 L1589.89,247.97 L1592.89,248.1 L1595.89,248.23 L1598.89,248.36 L1601.89,248.49 L1604.89,248.62 L1607.9,248.75 L1610.9,248.88 L1613.9,249.01 L1616.9,249.14 L1619.9,249.27 L1622.9,249.41 L1625.9,249.54 L1628.9,249.67 L1631.9,249.8 L1634.9,249.93 L1637.9,250.07 L1640.91,250.2 L1643.91,250.33 L1646.91,250.46 L1649.91,250.6 L1652.91,250.73 L1655.91,250.86 L1658.91,250.99 L1661.91,251.13 L1664.91,251.26 L1667.91,251.4 L1670.91,251.53 L1673.92,251.66 L1676.92,251.8 L1679.92,251.93 L1682.92,252.07 L1685.92,252.2 L1688.92,252.33 L1691.92,252.47 L1694.92,252.6 L1697.92,252.74 L1700.92,252.87 L1703.92,253.01 L1706.93,253.14 L1709.93,253.28 L1712.93,253.41 L1715.93,253.55 L1718.93,253.68 L1721.93,253.82 L1724.93,253.95 L1727.93,254.09 L1730.93,254.23 L1733.93,254.36 L1736.93,254.5 L1739.94,254.63 L1742.94,254.77 L1745.94,254.9 L1748.94,255.04 L1751.94,255.18 L1754.94,255.31 L1757.94,255.45 L1760.94,255.58 L1763.94,255.72 L1766.94,255.86 L1769.95,255.99 L1772.95,256.13 L1775.95,256.27 L1778.95,256.4 L1781.95,256.54 L1784.95,256.67 L1787.95,256.81 L1790.95,256.95 L1793.95,257.08 L1796.95,257.22 L1799.96,257.36 L1802.96,257.49 L1805.96,257.63 L1808.96,257.77 L1811.96,257.9 L1814.96,258.04 L1817.96,258.17 L1820.96,258.31 L1823.96,258.45 L1826.97,258.58 L1829.97,258.72 L1832.97,258.85 L1835.97,258.99 L1838.97,259.13 L1841.97,259.26 L1844.97,259.4 L1847.97,259.53 L1850.97,259.67 L1853.98,259.81 L1856.98,259.94 L1859.98,260.08 L1862.98,260.21 L1865.98,260.35 L1868.98,260.48 L1871.98,260.62 L1874.98,260.75 L1877.99,260.89 L1880.99,261.03 L1883.99,261.16 L1886.99,261.3 L1889.99,261.43 L1892.99,261.56 L1895.99,261.7 L1899,261.83 L1902,261.97 L1905,262.1 L1908,262.24 L1911,262.37 L1914,262.51 L1917,262.64 L1920.01,262.77 L1923.01,262.91 L1926.01,263.04 L1929.01,263.18 L1932.01,263.31 L1935.01,263.45 L1938.01,263.58 L1941.01,263.72 L1944.02,263.85 L1947.02,263.99 L1950.02,264.13 L1953.02,264.26 L1956.02,264.4 L1959.02,264.54 L1962.02,264.68 L1965.02,264.82 L1968.03,264.96 L1971.03,265.1 L1974.03,265.24 L1977.03,265.38 L1980.03,265.52 L1983.03,265.66 L1986.03,265.8 L1989.03,265.95 L1992.03,266.09 L1995.03,266.24 L1998.03,266.38 L2001.03,266.53 L2004.03,266.68 L2007.03,266.83 L2010.03,266.98 L2013.03,267.13 L2016.03,267.28 L2019.03,267.43 L2022.03,267.58 L2025.03,267.74 L2028.03,267.89 L2031.03,268.05 L2034.03,268.21 L2037.03,268.37 L2040.03,268.53 L2043.03,268.69 L2046.03,268.85 L2049.03,269.02 L2052.02,269.18 L2055.02,269.35 L2058.02,269.52 L2061.02,269.69 L2064.02,269.86 L2067.01,270.03 L2070.01,270.2 L2073.01,270.38 L2076.01,270.55 L2079.01,270.73 L2082,270.91 L2085,271.1 L2088,271.28 L2090.99,271.46 L2093.99,271.65 L2096.99,271.84 L2099.98,272.03 L2102.98,272.22 L2105.98,272.42 L2108.97,272.61 L2111.97,272.81 L2114.96,273.01 L2117.96,273.21 L2120.95,273.42 L2123.95,273.62 L2126.94,273.83 L2129.94,274.04 L2132.93,274.25 L2135.92,274.47 L2138.92,274.68 L2141.91,274.9 L2144.91,275.12 L2147.9,275.34 L2150.89,275.57 L2153.89,275.8 L2156.88,276.03 L2159.87,276.26 L2162.86,276.49 L2165.85,276.73 L2168.85,276.97 L2171.84,277.21 L2174.83,277.46 L2177.82,277.7 L2180.81,277.95 L2183.8,278.2 L2186.79,278.46 L2189.78,278.72 L2192.77,278.98 L2195.76,279.24 L2198.75,279.51 L2201.74,279.79 L2204.72,280.09 L2207.71,280.39 L2210.69,280.71 L2213.67,281.05 L2216.65,281.4 L2219.63,281.78 L2222.6,282.18 L2225.57,282.61 L2228.54,283.06 L2231.51,283.54 L2234.47,284.06 L2237.42,284.61 L2240.38,285.19 L2243.32,285.81 L2246.27,286.46 L2249.21,287.14 L2252.15,287.83 L2255.09,288.53 L2258.03,289.23 L2260.97,289.94 L2263.91,290.63 L2266.85,291.3 L2269.8,291.96 L2272.75,292.58 L2275.7,293.16 L2278.66,293.7 L2281.62,294.2 L2284.59,294.63 L2287.13,294.95"/>
<path d="M977.4,229.5 L980.4,229.54 L983.41,229.58 L986.41,229.62 L989.41,229.66 L992.41,229.7 L995.42,229.74 L998.42,229.78 L1001.42,229.83 L1004.42,229.87 L1007.43,229.91 L1010.43,229.95 L1013.43,229.99 L1016.43,230.03 L1019.43,230.08 L1022.44,230.12 L1025.44,230.16 L1028.44,230.2 L1031.44,230.25 L1034.45,230.29 L1037.45,230.33 L1040.45,230.38 L1043.45,230.42 L1046.46,230.46 L1049.46,230.51 L1052.46,230.55 L1055.46,230.6 L1058.47,230.64 L1061.47,230.69 L1064.47,230.73 L1067.47,230.77 L1070.48,230.82 L1073.48,230.87 L1076.48,230.91 L1079.48,230.96 L1082.49,231 L1085.49,231.05 L1088.49,231.1 L1091.49,231.14 L1094.5,231.19 L1097.5,231.24 L1100.5,231.28 L1103.5,231.33 L1106.51,231.38 L1109.51,231.43 L1112.51,231.48 L1115.51,231.52 L1118.51,231.57 L1121.52,231.62 L1124.52,231.67 L1127.52,231.72 L1130.52,231.77 L1133.53,231.82 L1136.53,231.87 L1139.53,231.92 L1142.53,231.97 L1145.54,232.02 L1148.54,232.07 L1151.54,232.12 L1154.54,232.18 L1157.54,232.23 L1160.55,232.28 L1163.55,232.33 L1166.55,232.38 L1169.55,232.44 L1172.56,232.49 L1175.56,232.54 L1178.56,232.6 L1181.56,232.65 L1184.57,232.71 L1187.57,232.76 L1190.57,232.81 L1193.57,232.87 L1196.57,232.92 L1199.58,232.98 L1202.58,233.04 L1205.58,233.09 L1208.58,233.15 L1211.58,233.21 L1214.59,233.26 L1217.59,233.32 L1220.59,233.38 L1223.59,233.44 L1226.6,233.49 L1229.6,233.55 L1232.6,233.61 L1235.6,233.67 L1238.6,233.73 L1241.61,233.79 L1244.61,233.85 L1247.61,233.91 L1250.61,233.97 L1253.61,234.03 L1256.62,234.09 L1259.62,234.15 L1262.62,234.22 L1265.62,234.28 L1268.62,234.34 L1271.63,234.4 L1274.63,234.47 L1277.63,234.53 L1280.63,234.6 L1283.63,234.66 L1286.64,234.72 L1289.64,234.79 L1292.64,234.85 L1295.64,234.92 L1298.64,234.99 L1301.65,235.05 L1304.65,235.12 L1307.65,235.19 L1310.65,235.25 L1313.65,235.32 L1316.65,235.39 L1319.66,235.46 L1322.66,235.53 L1325.66,235.6 L1328.66,235.67 L1331.66,235.74 L1334.66,235.81 L1337.67,235.88 L1340.67,235.95 L1343.67,236.02 L1346.67,236.09 L1349.67,236.16 L1352.68,236.24 L1355.68,236.31 L1358.68,236.38 L1361.68,236.46 L1364.68,236.53 L1367.68,236.61 L1370.69,236.68 L1373.69,236.76 L1376.69,236.83 L1379.69,236.91 L1382.69,236.98 L1385.69,237.06 L1388.69,237.14 L1391.7,237.22 L1394.7,237.29 L1397.7,237.37 L1400.7,237.45 L1403.7,237.53 L1406.7,237.61 L1409.71,237.69 L1412.71,237.77 L1415.71,237.85 L1418.71,237.93 L1421.71,238.02 L1424.71,238.1 L1427.71,238.18 L1430.71,238.27 L1433.72,238.35 L1436.72,238.43 L1439.72,238.52 L1442.72,238.6 L1445.72,238.69 L1448.72,238.77 L1451.72,238.86 L1454.73,238.95 L1457.73,239.03 L1460.73,239.12 L1463.73,239.21 L1466.73,239.3 L1469.73,239.39 L1472.73,239.48 L1475.73,239.57 L1478.73,239.66 L1481.74,239.75 L1484.74,239.84 L1487.74,239.93 L1490.74,240.02 L1493.74,240.12 L1496.74,240.21 L1499.74,240.3 L1502.74,240.4 L1505.74,240.49 L1508.75,240.59 L1511.75,240.68 L1514.75,240.78 L1517.75,240.88 L1520.75,240.97 L1523.75,241.07 L1526.75,241.17 L1529.75,241.27 L1532.75,241.37 L1535.75,241.47 L1538.75,241.57 L1541.75,241.67 L1544.76,241.77 L1547.76,241.87 L1550.76,241.97 L1553.76,242.08 L1556.76,242.18 L1559.76,242.28 L1562.76,242.39 L1565.76,242.49 L1568.76,242.6 L1571.76,242.7 L1574.76,242.81 L1577.76,242.92 L1580.76,243.03 L1583.76,243.13 L1586.76,243.24 L1589.77,243.35 L1592.77,243.46 L1595.77,243.57 L1598.77,243.68 L1601.77,243.79 L1604.77,243.9 L1607.77,244.02 L1610.77,244.13 L1613.77,244.24 L1616.77,244.36 L1619.77,244.47 L1622.77,244.59 L1625.77,244.7 L1628.77,244.82 L1631.77,244.93 L1634.77,245.05 L1637.77,245.17 L1640.77,245.29 L1643.77,245.4 L1646.77,245.52 L1649.77,245.64 L1652.77,245.76 L1655.77,245.88 L1658.77,246 L1661.77,246.12 L1664.77,246.25 L1667.77,246.37 L1670.77,246.49 L1673.77,246.61 L1676.77,246.74 L1679.77,246.86 L1682.77,246.98 L1685.77,247.11 L1688.77,247.23 L1691.77,247.36 L1694.77,247.48 L1697.77,247.61 L1700.77,247.74 L1703.77,247.86 L1706.77,247.99 L1709.77,248.12 L1712.77,248.25 L1715.77,248.37 L1718.77,248.5 L1721.77,248.63 L1724.77,248.76 L1727.77,248.89 L1730.77,249.02 L1733.77,249.15 L1736.77,249.28 L1739.77,249.41 L1742.77,249.54 L1745.77,249.67 L1748.77,249.8 L1751.77,249.93 L1754.77,250.07 L1757.77,250.2 L1760.77,250.33 L1763.77,250.46 L1766.77,250.6 L1769.77,250.73 L1772.77,250.86 L1775.77,251 L1778.77,251.13 L1781.77,251.27 L1784.77,251.4 L1787.77,251.54 L1790.77,251.67 L1793.77,251.8 L1796.77,251.94 L1799.77,252.08 L1802.76,252.21 L1805.76,252.35 L1808.76,252.48 L1811.76,252.62 L1814.76,252.75 L1817.76,252.89 L1820.76,253.03 L1823.76,253.16 L1826.76,253.3 L1829.76,253.44 L1832.76,253.58 L1835.76,253.71 L1838.76,253.85 L1841.76,253.99 L1844.76,254.12 L1847.76,254.26 L1850.76,254.4 L1853.76,254.54 L1856.76,254.68 L1859.76,254.81 L1862.76,254.95 L1865.76,255.09 L1868.76,255.23 L1871.76,255.37 L1874.76,255.5 L1877.75,255.64 L1880.75,255.78 L1883.75,255.92 L1886.75,256.06 L1889.75,256.2 L1892.75,256.33 L1895.75,256.47 L1898.75,256.61 L1901.75,256.75 L1904.75,256.89 L1907.75,257.03 L1910.75,257.16 L1913.75,257.3 L1916.75,257.44 L1919.75,257.58 L1922.75,257.72 L1925.75,257.86 L1928.75,257.99 L1931.75,258.13 L1934.75,258.27 L1937.75,258.41 L1940.75,258.55 L1943.75,258.68 L1946.75,258.82 L1949.74,258.96 L1952.74,259.1 L1955.74,259.24 L1958.74,259.37 L1961.74,259.51 L1964.74,259.65 L1967.74,259.79 L1970.74,259.92 L1973.74,260.06 L1976.74,260.2 L1979.74,260.33 L1982.74,260.47 L1985.74,260.61 L1988.74,260.75 L1991.74,260.88 L1994.74,261.02 L1997.74,261.16 L2000.74,261.3 L2003.74,261.43 L2006.74,261.57 L2009.74,261.71 L2012.74,261.85 L2015.74,261.98 L2018.74,262.12 L2021.74,262.26 L2024.74,262.4 L2027.73,262.54 L2030.73,262.67 L2033.73,262.81 L2036.73,262.95 L2039.73,263.09 L2042.73,263.23 L2045.73,263.37 L2048.73,263.5 L2051.73,263.64 L2054.73,263.78 L2057.73,263.92 L2060.73,264.06 L2063.73,264.2 L2066.73,264.34 L2069.73,264.48 L2072.73,264.62 L2075.73,264.76 L2078.73,264.9 L2081.73,265.04 L2084.73,265.18 L2087.72,265.32 L2090.72,265.46 L2093.72,265.6 L2096.72,265.75 L2099.72,265.89 L2102.72,266.03 L2105.72,266.17 L2108.72,266.31 L2111.72,266.46 L2114.72,266.6 L2117.72,266.74 L2120.72,266.89 L2123.72,267.03 L2126.72,267.17 L2129.72,267.32 L2132.71,267.46 L2135.71,267.61 L2138.71,267.75 L2141.71,267.9 L2144.71,268.04 L2147.71,268.19 L2150.71,268.33 L2153.71,268.48 L2156.71,268.63 L2159.71,268.77 L2162.71,268.92 L2165.7,269.07 L2168.7,269.22 L2171.7,269.37 L2174.7,269.52 L2177.7,269.66 L2180.7,269.81 L2183.7,269.96 L2186.7,270.11 L2189.7,270.27 L2192.69,270.42 L2195.69,270.57 L2198.69,270.72 L2201.69,270.87 L2204.69,271.03 L2207.69,271.18 L2210.69,271.33 L2213.69,271.49 L2216.68,271.64 L2219.68,271.8 L2222.68,271.95 L2225.68,272.11 L2228.68,272.26 L2231.68,272.42 L2234.68,272.58 L2237.67,272.73 L2240.67,272.89 L2243.67,273.05 L2246.67,273.21 L2249.67,273.37 L2252.67,273.53 L2255.66,273.69 L2258.66,273.85 L2261.66,274.01 L2264.66,274.18 L2267.66,274.34 L2270.66,274.5 L2273.65,274.67 L2276.65,274.83 L2279.65,275 L2282.65,275.16 L2285.65,275.33 L2288.64,275.5 L2291.64,275.67 L2294.64,275.84 L2297.64,276.01 L2300.63,276.18 L2303.63,276.35 L2306.63,276.52 L2309.63,276.7 L2312.62,276.87 L2315.62,277.04 L2318.62,277.22 L2321.62,277.4 L2324.61,277.57 L2327.61,277.75 L2330.61,277.93 L2333.6,278.11 L2336.6,278.29 L2339.6,278.48 L2342.59,278.66 L2345.59,278.84 L2348.59,279.03 L2351.58,279.22 L2354.58,279.4 L2357.58,279.59 L2360.57,279.78 L2363.57,279.97 L2366.57,280.16 L2369.56,280.36 L2372.56,280.55 L2375.55,280.75 L2378.55,280.94 L2381.54,281.14 L2384.54,281.34 L2387.54,281.54 L2390.53,281.74 L2393.53,281.94 L2396.52,282.15 L2399.52,282.35 L2402.51,282.56 L2405.51,282.77 L2408.5,282.98 L2411.5,283.19 L2414.49,283.4 L2417.49,283.61 L2420.48,283.83 L2423.47,284.04 L2426.47,284.26 L2429.46,284.48 L2432.46,284.7 L2435.45,284.92 L2438.44,285.15 L2441.44,285.37 L2444.43,285.6 L2447.42,285.82 L2450.42,286.05 L2453.41,286.28 L2456.4,286.52 L2459.4,286.75 L2462.39,286.99 L2465.38,287.22 L2468.37,287.46 L2471.37,287.7 L2474.36,287.95 L2477.35,288.19 L2480.34,288.44 L2483.34,288.68 L2486.33,288.93 L2489.32,289.18 L2492.31,289.44 L2495.3,289.69 L2498.29,289.95 L2501.28,290.21 L2504.27,290.47 L2507.27,290.73 L2510.26,290.99 L2513.25,291.26 L2516.24,291.52 L2519.23,291.79 L2522.22,292.06 L2525.21,292.34 L2528.2,292.61 L2531.19,292.89 L2534.17,293.17 L2537.16,293.45 L2540.15,293.73 L2543.14,294.02 L2546.13,294.31 L2549.12,294.59 L2552.11,294.89 L2555.1,295.18 L2558.08,295.47 L2561.07,295.77 L2563.58,296.02"/>
<path d="M977.4,229 L980.4,229.02 L983.4,229.05 L986.41,229.07 L989.41,229.1 L992.41,229.12 L995.41,229.15 L998.41,229.17 L1001.42,229.2 L1004.42,229.23 L1007.42,229.25 L1010.42,229.28 L1013.42,229.31 L1016.43,229.33 L1019.43,229.36 L1022.43,229.39 L1025.43,229.42 L1028.43,229.45 L1031.44,229.47 L1034.44,229.5 L1037.44,229.53 L1040.44,229.56 L1043.44,229.59 L1046.45,229.62 L1049.45,229.65 L1052.45,229.68 L1055.45,229.71 L1058.45,229.74 L1061.46,229.77 L1064.46,229.8 L1067.46,229.83 L1070.46,229.87 L1073.46,229.9 L1076.47,229.93 L1079.47,229.96 L1082.47,230 L1085.47,230.03 L1088.47,230.06 L1091.48,230.09 L1094.48,230.13 L1097.48,230.16 L1100.48,230.2 L1103.48,230.23 L1106.49,230.26 L1109.49,230.3 L1112.49,230.33 L1115.49,230.37 L1118.49,230.41 L1121.5,230.44 L1124.5,230.48 L1127.5,230.51 L1130.5,230.55 L1133.5,230.59 L1136.51,230.62 L1139.51,230.66 L1142.51,230.7 L1145.51,230.74 L1148.51,230.77 L1151.52,230.81 L1154.52,230.85 L1157.52,230.89 L1160.52,230.93 L1163.52,230.97 L1166.53,231.01 L1169.53,231.05 L1172.53,231.09 L1175.53,231.13 L1178.53,231.17 L1181.54,231.21 L1184.54,231.25 L1187.54,231.29 L1190.54,231.33 L1193.54,231.37 L1196.54,231.41 L1199.55,231.46 L1202.55,231.5 L1205.55,231.54 L1208.55,231.58 L1211.55,231.63 L1214.56,231.67 L1217.56,231.71 L1220.56,231.76 L1223.56,231.8 L1226.56,231.84 L1229.57,231.89 L1232.57,231.93 L1235.57,231.98 L1238.57,232.02 L1241.57,232.07 L1244.58,232.11 L1247.58,232.16 L1250.58,232.2 L1253.58,232.25 L1256.58,232.3 L1259.59,232.34 L1262.59,232.39 L1265.59,232.44 L1268.59,232.49 L1271.59,232.53 L1274.59,232.58 L1277.6,232.63 L1280.6,232.68 L1283.6,232.73 L1286.6,232.77 L1289.6,232.82 L1292.61,232.87 L1295.61,232.92 L1298.61,232.97 L1301.61,233.02 L1304.61,233.07 L1307.61,233.12 L1310.62,233.17 L1313.62,233.22 L1316.62,233.27 L1319.62,233.32 L1322.62,233.38 L1325.63,233.43 L1328.63,233.48 L1331.63,233.53 L1334.63,233.58 L1337.63,233.64 L1340.63,233.69 L1343.64,233.74 L1346.64,233.8 L1349.64,233.85 L1352.64,233.9 L1355.64,233.96 L1358.65,234.01 L1361.65,234.06 L1364.65,234.12 L1367.65,234.17 L1370.65,234.23 L1373.65,234.28 L1376.66,234.34 L1379.66,234.4 L1382.66,234.45 L1385.66,234.51 L1388.66,234.56 L1391.67,234.62 L1394.67,234.68 L1397.67,234.73 L1400.67,234.79 L1403.67,234.85 L1406.67,234.91 L1409.68,234.96 L1412.68,235.02 L1415.68,235.08 L1418.68,235.14 L1421.68,235.2 L1424.68,235.26 L1427.69,235.32 L1430.69,235.38 L1433.69,235.43 L1436.69,235.49 L1439.69,235.55 L1442.69,235.62 L1445.7,235.68 L1448.7,235.74 L1451.7,235.8 L1454.7,235.86 L1457.7,235.92 L1460.7,235.98 L1463.71,236.04 L1466.71,236.1 L1469.71,236.17 L1472.71,236.23 L1475.71,236.29 L1478.71,236.35 L1481.72,236.42 L1484.72,236.48 L1487.72,236.54 L1490.72,236.61 L1493.72,236.67 L1496.72,236.74 L1499.73,236.8 L1502.73,236.87 L1505.73,236.93 L1508.73,236.99 L1511.73,237.06 L1514.73,237.13 L1517.73,237.19 L1520.74,237.26 L1523.74,237.32 L1526.74,237.39 L1529.74,237.46 L1532.74,237.52 L1535.74,237.59 L1538.75,237.66 L1541.75,237.72 L1544.75,237.79 L1547.75,237.86 L1550.75,237.93 L1553.75,237.99 L1556.75,238.06 L1559.76,238.13 L1562.76,238.2 L1565.76,238.27 L1568.76,238.34 L1571.76,238.41 L1574.76,238.48 L1577.76,238.55 L1580.77,238.62 L1583.77,238.69 L1586.77,238.76 L1589.77,238.83 L1592.77,238.9 L1595.77,238.97 L1598.77,239.04 L1601.78,239.11 L1604.78,239.18 L1607.78,239.26 L1610.78,239.33 L1613.78,239.4 L1616.78,239.47 L1619.78,239.54 L1622.79,239.62 L1625.79,239.69 L1628.79,239.76 L1631.79,239.84 L1634.79,239.91 L1637.79,239.98 L1640.79,240.06 L1643.8,240.13 L1646.8,240.21 L1649.8,240.28 L1652.8,240.36 L1655.8,240.43 L1658.8,240.51 L1661.8,240.58 L1664.8,240.66 L1667.81,240.73 L1670.81,240.81 L1673.81,240.89 L1676.81,240.96 L1679.81,241.04 L1682.81,241.12 L1685.81,241.19 L1688.81,241.27 L1691.82,241.35 L1694.82,241.42 L1697.82,241.5 L1700.82,241.58 L1703.82,241.66 L1706.82,241.74 L1709.82,241.82 L1712.82,241.89 L1715.83,241.97 L1718.83,242.05 L1721.83,242.13 L1724.83,242.21 L1727.83,242.29 L1730.83,242.37 L1733.83,242.45 L1736.83,242.53 L1739.83,242.61 L1742.84,242.69 L1745.84,242.77 L1748.84,242.85 L1751.84,242.94 L1754.84,243.02 L1757.84,243.1 L1760.84,243.18 L1763.84,243.26 L1766.84,243.35 L1769.84,243.43 L1772.85,243.51 L1775.85,243.59 L1778.85,243.68 L1781.85,243.76 L1784.85,243.84 L1787.85,243.93 L1790.85,244.01 L1793.85,244.09 L1796.85,244.18 L1799.85,244.26 L1802.86,244.35 L1805.86,244.43 L1808.86,244.52 L1811.86,244.6 L1814.86,244.69 L1817.86,244.77 L1820.86,244.86 L1823.86,244.94 L1826.86,245.03 L1829.86,245.12 L1832.87,245.2 L1835.87,245.29 L1838.87,245.38 L1841.87,245.46 L1844.87,245.55 L1847.87,245.64 L1850.87,245.72 L1853.87,245.81 L1856.87,245.9 L1859.87,245.99 L1862.87,246.08 L1865.87,246.16 L1868.88,246.25 L1871.88,246.34 L1874.88,246.43 L1877.88,246.52 L1880.88,246.61 L1883.88,246.7 L1886.88,246.79 L1889.88,246.88 L1892.88,246.97 L1895.88,247.06 L1898.88,247.15 L1901.88,247.24 L1904.88,247.33 L1907.88,247.42 L1910.89,247.51 L1913.89,247.6 L1916.89,247.7 L1919.89,247.79 L1922.89,247.88 L1925.89,247.97 L1928.89,248.06 L1931.89,248.16 L1934.89,248.25 L1937.89,248.34 L1940.89,248.43 L1943.89,248.53 L1946.89,248.62 L1949.89,248.71 L1952.89,248.81 L1955.89,248.9 L1958.89,249 L1961.9,249.09 L1964.9,249.18 L1967.9,249.28 L1970.9,249.37 L1973.9,249.47 L1976.9,249.56 L1979.9,249.66 L1982.9,249.75 L1985.9,249.85 L1988.9,249.95 L1991.9,250.04 L1994.9,250.14 L1997.9,250.23 L2000.9,250.33 L2003.9,250.43 L2006.9,250.52 L2009.9,250.62 L2012.9,250.72 L2015.9,250.81 L2018.9,250.91 L2021.9,251.01 L2024.9,251.11 L2027.9,251.21 L2030.9,251.3 L2033.91,251.4 L2036.91,251.5 L2039.91,251.6 L2042.91,251.7 L2045.91,251.8 L2048.91,251.9 L2051.91,252 L2054.91,252.1 L2057.91,252.2 L2060.91,252.29 L2063.91,252.4 L2066.91,252.5 L2069.91,252.6 L2072.91,252.7 L2075.91,252.8 L2078.91,252.9 L2081.91,253 L2084.91,253.1 L2087.91,253.2 L2090.91,253.3 L2093.91,253.41 L2096.91,253.51 L2099.91,253.61 L2102.91,253.71 L2105.91,253.82 L2108.91,253.92 L2111.91,254.02 L2114.91,254.13 L2117.91,254.23 L2120.91,254.33 L2123.91,254.44 L2126.91,254.54 L2129.91,254.65 L2132.91,254.75 L2135.91,254.86 L2138.91,254.96 L2141.91,255.07 L2144.91,255.17 L2147.91,255.28 L2150.91,255.39 L2153.91,255.49 L2156.91,255.6 L2159.91,255.71 L2162.91,255.81 L2165.91,255.92 L2168.91,256.03 L2171.91,256.14 L2174.91,256.24 L2177.91,256.35 L2180.91,256.46 L2183.91,256.57 L2186.91,256.68 L2189.91,256.79 L2192.91,256.9 L2195.91,257.01 L2198.91,257.12 L2201.91,257.23 L2204.91,257.34 L2207.91,257.45 L2210.91,257.56 L2213.91,257.68 L2216.91,257.79 L2219.91,257.9 L2222.91,258.01 L2225.91,258.13 L2228.91,258.24 L2231.91,258.35 L2234.91,258.47 L2237.91,258.58 L2240.91,258.7 L2243.91,258.81 L2246.91,258.92 L2249.91,259.04 L2252.91,259.16 L2255.91,259.27 L2258.9,259.39 L2261.9,259.5 L2264.9,259.62 L2267.9,259.74 L2270.9,259.86 L2273.9,259.97 L2276.9,260.09 L2279.9,260.21 L2282.9,260.33 L2285.9,260.45 L2288.9,260.57 L2291.9,260.69 L2294.9,260.81 L2297.9,260.93 L2300.9,261.05 L2303.9,261.17 L2306.9,261.29 L2309.9,261.41 L2312.9,261.54 L2315.9,261.66 L2318.9,261.78 L2321.9,261.9 L2324.9,262.03 L2327.9,262.15 L2330.9,262.28 L2333.9,262.4 L2336.9,262.53 L2339.9,262.65 L2342.9,262.78 L2345.9,262.9 L2348.9,263.03 L2351.9,263.16 L2354.9,263.28 L2357.9,263.41 L2360.9,263.54 L2363.9,263.67 L2366.9,263.8 L2369.9,263.92 L2372.9,264.05 L2375.89,264.18 L2378.89,264.31 L2381.89,264.44 L2384.89,264.58 L2387.89,264.71 L2390.89,264.84 L2393.89,264.97 L2396.89,265.1 L2399.89,265.24 L2402.89,265.37 L2405.89,265.5 L2408.89,265.64 L2411.89,265.77 L2414.89,265.91 L2417.89,266.04 L2420.89,266.18 L2423.89,266.32 L2426.89,266.45 L2429.89,266.59 L2432.89,266.73 L2435.89,266.87 L2438.89,267 L2441.89,267.14 L2444.89,267.28 L2447.89,267.42 L2450.89,267.56 L2453.89,267.7 L2456.89,267.84 L2459.89,267.99 L2462.89,268.13 L2465.89,268.27 L2468.89,268.41 L2471.89,268.56 L2474.89,268.7 L2477.89,268.84 L2480.89,268.99 L2483.89,269.13 L2486.88,269.28 L2489.88,269.43 L2492.88,269.57 L2495.88,269.72 L2498.88,269.87 L2501.88,270.02 L2504.88,270.16 L2507.88,270.31 L2510.88,270.46 L2513.88,270.61 L2516.88,270.77 L2519.88,270.92 L2522.88,271.07 L2525.88,271.22 L2528.88,271.38 L2531.88,271.53 L2534.88,271.69 L2537.88,271.85 L2540.88,272 L2543.88,272.16 L2546.88,272.32 L2549.87,272.48 L2552.87,272.64 L2555.87,272.81 L2558.87,272.97 L2561.87,273.14 L2564.87,273.3 L2567.87,273.47 L2570.87,273.64 L2573.86,273.81 L2576.86,273.98 L2579.86,274.15 L2582.86,274.33 L2585.85,274.5 L2588.85,274.68 L2591.85,274.86 L2594.85,275.03 L2597.84,275.22 L2600.84,275.4 L2603.84,275.58 L2606.83,275.77 L2609.83,275.95 L2612.83,276.14 L2615.82,276.33 L2618.82,276.52 L2621.81,276.72 L2624.81,276.91 L2627.81,277.11 L2630.8,277.31 L2633.8,277.51 L2636.79,277.71 L2639.78,277.92 L2642.78,278.12 L2645.77,278.33 L2648.77,278.54 L2651.76,278.75 L2654.75,278.97 L2657.75,279.18 L2660.74,279.4 L2663.73,279.62 L2666.72,279.84 L2669.72,280.07 L2672.71,280.29 L2675.7,280.52 L2678.69,280.75 L2681.68,280.99 L2684.67,281.22 L2688.66,281.54 L2692.65,281.86 L2696.63,282.19 L2700.62,282.52 L2704.6,282.85 L2708.59,283.19 L2712.57,283.54 L2716.56,283.89 L2720.54,284.24 L2724.52,284.6 L2728.5,284.96 L2732.48,285.33 L2736.46,285.7 L2740.44,286.08 L2744.42,286.47 L2748.4,286.86 L2752.37,287.28 L2756.35,287.72 L2760.32,288.18 L2764.28,288.66 L2768.25,289.18 L2772.21,289.74 L2776.16,290.34 L2779.12,290.81 L2782.08,291.31 L2785.04,291.84 L2787.99,292.4 L2788.56,292.51"/>
<path d="M3033.3,384.5 L3032.59,380.57 L3031.81,376.65 L3031.18,373.71 L3030.51,370.78 L3029.79,367.86 L3029.03,364.95 L3028.23,362.05 L3027.38,359.17 L3026.49,356.3 L3025.55,353.44 L3024.56,350.6 L3023.52,347.78 L3022.44,344.98 L3021.31,342.2 L3020.12,339.44 L3018.46,335.8 L3016.71,332.21 L3014.86,328.67 L3012.92,325.18 L3010.87,321.75 L3008.73,318.37 L3007.05,315.88 L3005.33,313.42 L3003.56,310.98 L3001.74,308.56 L2999.87,306.17 L2997.97,303.79 L2996.03,301.42 L2994.05,299.07 L2992.02,296.76 L2989.92,294.55 L2987.71,292.52 L2984.56,290.19 L2981.11,288.41 L2977.45,287.06 L2973.68,285.93 L2969.87,284.92 L2966,284.03 L2962.1,283.23 L2958.17,282.53 L2955.2,282.05 L2952.21,281.62 L2949.22,281.22 L2946.21,280.86 L2943.2,280.52 L2940.18,280.21 L2937.16,279.92 L2934.14,279.65 L2931.11,279.39 L2928.1,279.13 L2925.08,278.89 L2922.07,278.64 L2919.07,278.41 L2916.06,278.17 L2913.06,277.95 L2910.06,277.72 L2907.07,277.51 L2904.08,277.29 L2900.09,277.01 L2896.1,276.74 L2892.12,276.47 L2888.14,276.21 L2884.16,275.95 L2880.17,275.7 L2876.19,275.45 L2872.21,275.2 L2868.23,274.96 L2864.24,274.72 L2860.26,274.48 L2856.27,274.25 L2852.29,274.02 L2848.3,273.79 L2844.31,273.57 L2840.33,273.35 L2836.34,273.13 L2832.35,272.91 L2828.36,272.7 L2824.37,272.49 L2820.38,272.29 L2816.39,272.08 L2812.4,271.88 L2808.41,271.68 L2804.41,271.49 L2800.42,271.29 L2796.43,271.1 L2792.43,270.92 L2788.44,270.73 L2784.44,270.55 L2780.45,270.37 L2776.45,270.19 L2772.46,270.01 L2769.46,269.88 L2766.46,269.75 L2763.46,269.62 L2760.47,269.49 L2757.47,269.37 L2754.47,269.24 L2751.47,269.12 L2748.47,269 L2745.47,268.87 L2742.47,268.75 L2739.47,268.63 L2736.47,268.52 L2733.47,268.4 L2730.47,268.28 L2727.47,268.17 L2724.47,268.05 L2721.47,267.94 L2718.47,267.82 L2715.47,267.71 L2712.47,267.6 L2709.47,267.49 L2706.47,267.38 L2703.47,267.27 L2700.47,267.16 L2697.46,267.06 L2694.46,266.95 L2691.46,266.85 L2688.46,266.74 L2685.46,266.64 L2682.45,266.53 L2679.45,266.43 L2676.45,266.33 L2673.45,266.22 L2670.44,266.12 L2667.44,266.02 L2664.44,265.92 L2661.43,265.82 L2658.43,265.72 L2655.43,265.63 L2652.42,265.53 L2649.42,265.43 L2646.42,265.33 L2643.41,265.24 L2640.41,265.14 L2637.41,265.04 L2634.4,264.95 L2631.4,264.85 L2628.4,264.76 L2625.39,264.66 L2622.39,264.57 L2619.39,264.47 L2616.38,264.38 L2613.38,264.28 L2610.37,264.19 L2607.37,264.1 L2604.37,264 L2601.36,263.91 L2598.36,263.82 L2595.36,263.72 L2592.35,263.63 L2589.35,263.54 L2586.34,263.44 L2583.34,263.35 L2580.34,263.26 L2577.33,263.16 L2574.33,263.07 L2571.33,262.98 L2568.32,262.88 L2565.32,262.79 L2562.32,262.7 L2559.31,262.6 L2556.31,262.51 L2553.31,262.42 L2550.3,262.32 L2547.3,262.23 L2544.3,262.13 L2541.29,262.04 L2538.29,261.94 L2535.29,261.85 L2532.29,261.75 L2529.28,261.65 L2526.28,261.56 L2523.28,261.46 L2520.28,261.36 L2517.28,261.27 L2514.27,261.17 L2511.27,261.07 L2508.27,260.97 L2505.27,260.87 L2502.27,260.77 L2499.27,260.67 L2496.26,260.57 L2493.26,260.46 L2490.26,260.36 L2487.26,260.26 L2484.26,260.15 L2481.26,260.05 L2478.26,259.94 L2475.26,259.84 L2472.26,259.73 L2469.26,259.63 L2466.26,259.52 L2463.26,259.41 L2460.26,259.31 L2457.26,259.2 L2454.27,259.09 L2451.27,258.98 L2448.27,258.87 L2445.27,258.76 L2442.27,258.66 L2439.27,258.55 L2436.27,258.44 L2433.27,258.33 L2430.28,258.22 L2427.28,258.11 L2424.28,258 L2421.28,257.9 L2418.28,257.79 L2415.28,257.68 L2412.29,257.57 L2409.29,257.47 L2405.29,257.32 L2401.29,257.18 L2397.3,257.04 L2393.3,256.9 L2389.3,256.76 L2385.3,256.62 L2381.31,256.49 L2377.31,256.35 L2373.31,256.21 L2369.31,256.08 L2365.32,255.95 L2361.32,255.82 L2357.32,255.69 L2353.32,255.56 L2349.33,255.44 L2345.33,255.31 L2341.33,255.19 L2337.33,255.07 L2333.33,254.96 L2330.34,254.87 L2327.34,254.78 L2324.34,254.7 L2321.34,254.62 L2318.34,254.54 L2315.34,254.46 L2312.34,254.38 L2309.34,254.3 L2306.34,254.23 L2303.34,254.15 L2300.34,254.08 L2297.34,254.01 L2294.34,253.94 L2291.34,253.87 L2288.34,253.81 L2285.34,253.74 L2282.34,253.68 L2279.34,253.62 L2276.34,253.56 L2273.34,253.51 L2270.33,253.45 L2267.33,253.4 L2264.33,253.35 L2261.33,253.3 L2258.33,253.26 L2255.32,253.21 L2252.32,253.17 L2249.32,253.13 L2246.31,253.09 L2243.31,253.06 L2240.31,253.02 L2237.3,252.99 L2234.3,252.97 L2231.3,252.94 L2228.29,252.91 L2225.29,252.89 L2222.28,252.86 L2219.28,252.84 L2216.27,252.81 L2213.27,252.79 L2210.26,252.76 L2207.26,252.73 L2204.25,252.7 L2201.25,252.66 L2198.25,252.62 L2195.24,252.58 L2192.24,252.54 L2189.24,252.49 L2186.23,252.44 L2183.23,252.38 L2180.23,252.32 L2177.22,252.25 L2174.22,252.18 L2171.22,252.1 L2168.22,252.03 L2165.22,251.94 L2162.22,251.86 L2159.22,251.77 L2156.21,251.68 L2153.21,251.59 L2150.21,251.49 L2147.21,251.39 L2144.21,251.29 L2141.21,251.19 L2138.21,251.08 L2135.21,250.97 L2132.21,250.87 L2129.22,250.76 L2126.22,250.64 L2123.22,250.53 L2120.22,250.42 L2117.22,250.3 L2114.22,250.18 L2111.22,250.07 L2108.22,249.95 L2105.22,249.83 L2102.23,249.72 L2099.23,249.6 L2096.23,249.48 L2093.23,249.36 L2090.23,249.25 L2087.23,249.13 L2084.23,249.02 L2081.23,248.9 L2078.24,248.79 L2075.24,248.68 L2072.24,248.57 L2069.24,248.46 L2066.24,248.35 L2063.24,248.25 L2060.24,248.15 L2057.24,248.05 L2054.24,247.95 L2051.25,247.85 L2048.25,247.76 L2045.25,247.67 L2042.25,247.59 L2039.25,247.5 L2036.25,247.42 L2033.25,247.35 L2030.25,247.27 L2027.25,247.2 L2024.24,247.13 L2021.24,247.07 L2018.24,247 L2015.24,246.94 L2012.24,246.88 L2009.24,246.83 L2006.24,246.77 L2003.24,246.72 L2000.24,246.67 L1997.23,246.62 L1994.23,246.57 L1991.23,246.52 L1988.23,246.48 L1985.23,246.43 L1982.23,246.39 L1979.22,246.35 L1976.22,246.3 L1973.22,246.26 L1970.22,246.22 L1967.22,246.18 L1964.22,246.13 L1961.21,246.09 L1958.21,246.05 L1955.21,246.01 L1952.21,245.96 L1949.21,245.92 L1946.21,245.87 L1943.2,245.83 L1940.2,245.78 L1937.2,245.73 L1934.2,245.68 L1931.2,245.63 L1928.2,245.58 L1925.19,245.53 L1922.19,245.47 L1919.19,245.42 L1916.19,245.36 L1913.19,245.31 L1910.19,245.25 L1907.19,245.19 L1904.19,245.14 L1901.18,245.08 L1898.18,245.02 L1895.18,244.96 L1892.18,244.9 L1889.18,244.84 L1886.18,244.78 L1883.18,244.72 L1880.18,244.66 L1877.18,244.6 L1874.17,244.54 L1871.17,244.48 L1868.17,244.41 L1865.17,244.35 L1862.17,244.29 L1859.17,244.23 L1856.17,244.16 L1853.17,244.1 L1850.17,244.04 L1847.16,243.97 L1844.16,243.91 L1841.16,243.84 L1838.16,243.78 L1835.16,243.71 L1832.16,243.65 L1829.16,243.58 L1826.16,243.51 L1823.16,243.45 L1820.16,243.38 L1817.15,243.31 L1814.15,243.25 L1811.15,243.18 L1808.15,243.11 L1805.15,243.04 L1802.15,242.98 L1799.15,242.91 L1796.15,242.84 L1793.15,242.77 L1790.14,242.7 L1787.14,242.63 L1784.14,242.56 L1781.14,242.49 L1778.14,242.42 L1775.14,242.35 L1772.14,242.29 L1769.14,242.21 L1766.14,242.14 L1763.14,242.07 L1760.13,242 L1757.13,241.93 L1754.13,241.86 L1751.13,241.79 L1748.13,241.72 L1745.13,241.65 L1742.13,241.58 L1739.13,241.51 L1736.13,241.43 L1733.13,241.36 L1730.12,241.29 L1727.12,241.22 L1724.12,241.15 L1721.12,241.07 L1718.12,241 L1715.12,240.93 L1712.12,240.86 L1709.12,240.78 L1706.12,240.71 L1703.12,240.64 L1700.11,240.57 L1697.11,240.49 L1694.11,240.42 L1691.11,240.35 L1688.11,240.27 L1685.11,240.2 L1682.11,240.13 L1679.11,240.05 L1676.11,239.98 L1673.11,239.91 L1670.11,239.84 L1667.1,239.76 L1664.1,239.69 L1661.1,239.62 L1658.1,239.54 L1655.1,239.47 L1652.1,239.4 L1649.1,239.32 L1646.1,239.25 L1643.1,239.18 L1640.1,239.1 L1637.09,239.03 L1634.09,238.96 L1631.09,238.88 L1628.09,238.81 L1625.09,238.74 L1622.09,238.67 L1619.09,238.59 L1616.09,238.52 L1613.09,238.45 L1610.09,238.38 L1607.08,238.3 L1604.08,238.23 L1601.08,238.16 L1598.08,238.09 L1595.08,238.01 L1592.08,237.94 L1589.08,237.87 L1586.08,237.8 L1583.08,237.73 L1580.08,237.66 L1577.07,237.58 L1574.07,237.51 L1571.07,237.44 L1568.07,237.37 L1565.07,237.3 L1562.07,237.23 L1559.07,237.16 L1556.07,237.09 L1553.07,237.02 L1550.06,236.95 L1547.06,236.88 L1544.06,236.81 L1541.06,236.74 L1538.06,236.67 L1535.06,236.6 L1532.06,236.53 L1529.06,236.46 L1526.06,236.39 L1523.06,236.33 L1520.05,236.26 L1517.05,236.19 L1514.05,236.12 L1511.05,236.06 L1508.05,235.99 L1505.05,235.92 L1502.05,235.85 L1499.05,235.79 L1496.05,235.72 L1493.04,235.66 L1490.04,235.59 L1487.04,235.52 L1484.04,235.46 L1481.04,235.39 L1478.04,235.33 L1475.04,235.27 L1472.04,235.2 L1469.03,235.14 L1466.03,235.07 L1463.03,235.01 L1460.03,234.95 L1457.03,234.89 L1454.03,234.82 L1451.03,234.76 L1448.03,234.7 L1445.03,234.64 L1442.02,234.58 L1439.02,234.52 L1436.02,234.46 L1433.02,234.4 L1430.02,234.34 L1427.02,234.28 L1424.02,234.22 L1421.02,234.16 L1418.01,234.1 L1415.01,234.05 L1412.01,233.99 L1409.01,233.93 L1406.01,233.88 L1403.01,233.82 L1400.01,233.76 L1397.01,233.71 L1394,233.65 L1391,233.6 L1388,233.54 L1385,233.49 L1382,233.44 L1379,233.39 L1376,233.33 L1373,233.28 L1369.99,233.23 L1366.99,233.18 L1363.99,233.13 L1360.99,233.08 L1357.99,233.03 L1354.99,232.98 L1351.99,232.93 L1348.98,232.88 L1345.98,232.83 L1342.98,232.79 L1339.98,232.74 L1336.98,232.69 L1333.98,232.64 L1330.98,232.6 L1327.97,232.55 L1324.97,232.51 L1321.97,232.46 L1318.97,232.42 L1315.97,232.37 L1312.97,232.33 L1309.97,232.28 L1306.96,232.24 L1303.96,232.2 L1300.96,232.15 L1297.96,232.11 L1294.96,232.07 L1291.96,232.03 L1288.96,231.98 L1285.95,231.94 L1282.95,231.9 L1279.95,231.86 L1276.95,231.82 L1273.95,231.78 L1270.95,231.73 L1267.94,231.69 L1264.94,231.65 L1261.94,231.61 L1258.94,231.57 L1255.94,231.53 L1252.94,231.49 L1249.94,231.45 L1246.93,231.41 L1243.93,231.37 L1240.93,231.33 L1237.93,231.29 L1234.93,231.26 L1231.93,231.22 L1228.92,231.18 L1225.92,231.14 L1222.92,231.1 L1219.92,231.06 L1216.92,231.02 L1213.92,230.98 L1210.92,230.94 L1207.91,230.9 L1204.91,230.87 L1201.91,230.83 L1198.91,230.79 L1195.91,230.75 L1192.91,230.71 L1189.9,230.67 L1186.9,230.63 L1183.9,230.59 L1180.9,230.55 L1177.9,230.51 L1174.9,230.47 L1171.89,230.44 L1168.89,230.4 L1165.89,230.36 L1162.89,230.32 L1159.89,230.28 L1156.89,230.24 L1153.89,230.2 L1150.88,230.16 L1147.88,230.12 L1144.88,230.08 L1141.88,230.04 L1138.88,229.99 L1135.88,229.95 L1132.87,229.91 L1129.87,229.87 L1126.87,229.83 L1123.87,229.79 L1120.87,229.75 L1117.87,229.7 L1114.87,229.66 L1111.86,229.62 L1108.86,229.57 L1105.86,229.53 L1102.86,229.49 L1099.86,229.44 L1096.86,229.4 L1093.85,229.36 L1090.85,229.31 L1087.85,229.27 L1084.85,229.22 L1081.85,229.17 L1078.85,229.13 L1075.85,229.08 L1072.84,229.03 L1069.84,228.99 L1066.84,228.94 L1063.84,228.89 L1060.84,228.84 L1057.84,228.8 L1054.84,228.75 L1051.83,228.7 L1048.83,228.65 L1045.83,228.6 L1042.83,228.55 L1039.83,228.49 L1036.83,228.44 L1033.83,228.39 L1030.82,228.34 L1027.82,228.28 L1024.82,228.23 L1021.82,228.18 L1018.82,228.12 L1015.82,228.07 L1012.82,228.01 L1009.81,227.96 L1006.81,227.9 L1003.81,227.84 L1000.81,227.78 L997.81,227.73 L994.81,227.67 L991.81,227.61 L991.3,227.6"/>
<path d="M1339.3,328.3 L1335.9,328.9 L1332.5,329.5 L1329.1,330.09 L1325.7,330.69 L1322.29,331.28 L1318.89,331.88 L1315.49,332.47 L1312.09,333.06 L1308.69,333.66 L1305.28,334.25 L1301.88,334.84 L1298.48,335.43 L1295.08,336.01 L1291.67,336.6 L1288.27,337.19 L1284.87,337.78 L1281.47,338.36 L1278.06,338.95 L1274.66,339.53 L1271.26,340.11 L1267.85,340.69 L1264.45,341.28 L1261.04,341.86 L1257.64,342.44 L1254.24,343.02 L1250.83,343.59 L1247.43,344.17 L1244.02,344.75 L1240.62,345.32 L1237.21,345.9 L1233.81,346.47 L1230.4,347.04 L1227,347.62 L1223.59,348.19 L1220.19,348.76 L1216.78,349.33 L1213.38,349.9 L1209.97,350.47 L1206.56,351.04 L1203.16,351.6 L1199.75,352.17 L1196.34,352.73 L1192.94,353.3 L1189.53,353.86 L1186.12,354.42 L1182.72,354.99 L1179.31,355.55 L1175.9,356.11 L1172.5,356.67 L1169.09,357.23 L1165.68,357.78 L1162.27,358.34 L1158.87,358.9 L1155.46,359.45 L1152.05,360.01 L1148.64,360.56 L1145.23,361.11 L1141.82,361.67 L1138.42,362.22 L1135.01,362.77 L1131.6,363.32 L1128.19,363.87 L1124.78,364.41 L1121.37,364.96 L1117.96,365.51 L1114.55,366.05 L1111.14,366.6 L1107.73,367.14 L1104.32,367.69 L1100.91,368.23 L1097.5,368.77 L1094.09,369.31 L1090.68,369.85 L1087.27,370.39 L1083.86,370.93 L1080.45,371.47 L1077.04,372 L1073.63,372.54 L1070.21,373.08 L1066.8,373.61 L1063.39,374.14 L1059.98,374.68 L1056.57,375.21 L1053.16,375.74 L1049.74,376.27 L1046.33,376.8 L1042.92,377.33 L1039.51,377.86 L1036.09,378.38 L1032.68,378.91 L1029.27,379.44 L1025.86,379.96 L1022.44,380.48 L1019.03,381.01 L1015.62,381.53 L1013.73,381.82"/>
<path d="M1352.5,328.3 L1204.79,380.01"/>
<path d="M1398.9,328.3 L1377.47,365.26"/>
<path d="M1425.5,328.3 L1427.8,330.63 L1429.97,333.01 L1432.02,335.44 L1433.94,337.91 L1435.73,340.43 L1437.4,342.98 L1438.96,345.57 L1440.57,348.54 L1442.03,351.54 L1443.36,354.59 L1444.54,357.68 L1445.59,360.81 L1446.51,363.96 L1447.3,367.15 L1447.97,370.37 L1448.51,373.61 L1448.94,376.88 L1449.25,380.17 L1449.44,383.47 L1449.53,386.79 L1449.52,390.13 L1449.4,393.47 L1449.18,396.82 L1448.86,400.17 L1448.5,403.16 L1448.07,406.14 L1447.57,409.12 L1447,412.1 L1446.37,415.07 L1445.68,418.03 L1444.93,420.99 L1444.12,423.93 L1443.25,426.86 L1442.33,429.77 L1441.36,432.67 L1440.34,435.55 L1439.28,438.4 L1438.17,441.24 L1437.02,444.05 L1435.83,446.83 L1434.6,449.58 L1433.33,452.31 L1432.29,454.49"/>
<path d="M1372.4,417.8 L1397.52,455.26"/>
<path d="M1281.8,417.8 L1278.83,418.27 L1275.85,418.74 L1272.88,419.22 L1269.9,419.69 L1266.93,420.17 L1263.95,420.64 L1260.98,421.12 L1258.01,421.6 L1255.03,422.07 L1252.06,422.55 L1249.09,423.03 L1246.11,423.51 L1243.14,423.99 L1240.16,424.47 L1237.19,424.95 L1234.22,425.43 L1231.24,425.91 L1228.27,426.39 L1225.3,426.87 L1222.32,427.35 L1219.35,427.83 L1216.38,428.31 L1213.4,428.8 L1210.43,429.28 L1207.46,429.76 L1204.48,430.24 L1201.51,430.72 L1198.53,431.2 L1195.56,431.69 L1192.59,432.17 L1189.61,432.65 L1186.64,433.13 L1183.67,433.61 L1180.69,434.09 L1177.72,434.58 L1174.74,435.06 L1171.77,435.54 L1168.8,436.02 L1165.82,436.5 L1162.85,436.98 L1159.87,437.45 L1156.9,437.93 L1153.92,438.41 L1150.95,438.89 L1147.98,439.36 L1145,439.84 L1142.03,440.32 L1139.05,440.79 L1136.08,441.26 L1133.1,441.74 L1130.13,442.21 L1127.15,442.68 L1124.18,443.15 L1121.2,443.62 L1118.22,444.09 L1115.25,444.56 L1112.27,445.03 L1109.3,445.5 L1106.32,445.96 L1103.34,446.43 L1100.37,446.89 L1097.39,447.35 L1094.41,447.81 L1091.44,448.27 L1088.46,448.73 L1085.48,449.19 L1082.5,449.65 L1079.53,450.1 L1076.55,450.56 L1073.57,451.01 L1070.59,451.46 L1067.61,451.91 L1064.63,452.36 L1061.66,452.8 L1058.68,453.25 L1055.7,453.69 L1052.72,454.14 L1049.74,454.58 L1046.76,455.02 L1043.78,455.45 L1040.8,455.89 L1037.82,456.32 L1034.84,456.76 L1031.85,457.19 L1028.87,457.61 L1025.89,458.04 L1022.91,458.47 L1019.93,458.89 L1016.95,459.31 L1013.96,459.73 L1010.98,460.15 L1008,460.56 L1005.01,460.98 L1002.03,461.39 L999.05,461.8 L996.06,462.2 L993.08,462.61 L990.09,463.01 L987.11,463.41 L984.12,463.81 L981.13,464.2 L978.15,464.6 L975.16,464.99 L972.18,465.38 L969.19,465.76 L966.2,466.14 L963.21,466.53 L960.23,466.9 L957.24,467.28 L954.25,467.65 L951.26,468.02 L948.27,468.39 L945.28,468.76 L942.29,469.12 L939.3,469.48 L936.31,469.84 L933.32,470.19 L930.33,470.54 L927.33,470.89 L924.34,471.24 L921.35,471.58 L918.35,471.92 L915.36,472.26 L912.37,472.59 L909.37,472.92 L906.38,473.25 L903.38,473.58 L900.39,473.9 L897.39,474.22 L894.4,474.53 L891.4,474.84 L888.4,475.15 L885.4,475.46 L882.41,475.76 L879.41,476.06 L876.41,476.35 L873.41,476.64 L870.41,476.93 L867.84,477.18"/>
<path d="M2119.8,328.3 L1996.1,379.46"/>
<path d="M2312,321 L2153.18,380.42"/>
<path d="M2332,321 L2233.93,378.2"/>
<path d="M2345.2,321 L2303.37,374.11"/>
<path d="M2356.3,321 L2356.3,371"/>
<path d="M2367.3,321 L2411.18,374.31"/>
<path d="M2378.4,321 L2476.38,378.19"/>
<path d="M2294.4,321.4 L2290.49,322.12 L2286.57,322.85 L2282.66,323.59 L2278.74,324.35 L2274.81,325.11 L2270.89,325.89 L2267.95,326.48 L2265.01,327.07 L2262.06,327.68 L2259.12,328.28 L2256.17,328.9 L2253.23,329.52 L2250.28,330.14 L2247.34,330.77 L2244.39,331.41 L2241.45,332.05 L2238.51,332.7 L2235.56,333.35 L2232.62,334.01 L2229.68,334.68 L2226.74,335.35 L2223.8,336.03 L2220.87,336.71 L2217.93,337.4 L2215,338.09 L2212.06,338.79 L2209.13,339.5 L2206.2,340.21 L2203.28,340.93 L2200.35,341.65 L2197.43,342.37 L2194.51,343.1 L2191.59,343.84 L2188.68,344.58 L2185.77,345.33 L2182.86,346.08 L2179.95,346.84 L2177.05,347.61 L2173.18,348.63 L2169.32,349.67 L2165.47,350.71 L2161.62,351.76 L2157.79,352.82 L2153.95,353.89 L2150.13,354.97 L2146.31,356.06 L2142.51,357.15 L2138.71,358.25 L2134.92,359.36 L2131.13,360.48 L2127.33,361.58 L2123.52,362.68 L2119.69,363.75 L2115.83,364.8 L2112.92,365.57 L2109.98,366.32 L2107.02,367.04 L2104.03,367.74 L2101.01,368.41 L2097.95,369.05 L2094.86,369.66 L2091.76,370.26 L2088.67,370.9 L2085.63,371.62 L2082.68,372.47 L2079.84,373.49 L2076.3,375.2 L2073.11,377.39 L2070.33,380.07 L2068,383.16 L2066.17,386.58 L2064.89,390.25 L2064.21,394.1 L2064.16,398.03 L2064.74,401.97 L2065.55,404.9 L2066.66,407.77 L2068.03,410.56 L2069.64,413.24 L2071.46,415.77 L2073.46,418.15 L2075.62,420.33 L2077.92,422.31 L2080.34,424.12 L2082.86,425.76 L2085.48,427.26 L2088.17,428.63 L2090.92,429.89 L2093.71,431.05 L2096.53,432.13 L2099.37,433.14 L2102.22,434.08 L2105.1,434.96 L2107.98,435.78 L2110.88,436.56 L2113.8,437.28 L2116.72,437.97 L2119.66,438.62 L2122.6,439.23 L2125.55,439.82 L2128.5,440.38 L2131.46,440.93 L2134.42,441.46 L2137.38,441.98 L2140.34,442.49 L2143.31,443 L2146.27,443.5 L2149.24,443.99 L2152.2,444.47 L2155.17,444.95 L2158.14,445.42 L2161.11,445.88 L2164.08,446.34 L2167.05,446.79 L2170.02,447.23 L2172.99,447.67 L2175.97,448.1 L2178.94,448.52 L2181.92,448.93 L2184.89,449.34 L2187.87,449.75 L2190.85,450.15 L2193.82,450.54 L2196.8,450.92 L2199.78,451.31 L2202.76,451.68 L2205.74,452.05 L2208.72,452.41 L2211.7,452.77 L2214.69,453.12 L2217.67,453.47 L2220.65,453.82 L2223.64,454.15 L2226.62,454.49 L2229.6,454.82 L2232.59,455.14 L2235.58,455.46 L2238.56,455.77 L2241.55,456.09 L2244.54,456.39 L2247.53,456.69 L2250.51,456.99 L2253.5,457.29 L2256.49,457.58 L2259.48,457.86 L2262.47,458.15 L2265.46,458.43 L2268.45,458.7 L2271.44,458.97 L2274.44,459.24 L2277.43,459.51 L2280.42,459.77 L2283.41,460.03 L2286.41,460.29 L2289.4,460.55 L2292.39,460.8 L2295.39,461.05 L2298.38,461.29 L2301.37,461.54 L2304.37,461.78 L2307.36,462.02 L2310.36,462.26 L2313.35,462.49 L2316.35,462.73 L2319.34,462.96 L2322.34,463.19 L2325.33,463.42 L2328.33,463.65 L2331.32,463.88 L2334.32,464.1 L2337.31,464.32 L2340.31,464.55 L2343.31,464.77 L2346.3,464.98 L2349.3,465.2 L2352.29,465.42 L2355.29,465.63 L2358.29,465.84 L2361.28,466.05 L2364.28,466.26 L2367.28,466.47 L2370.27,466.68 L2373.27,466.88 L2376.27,467.09 L2379.26,467.29 L2382.26,467.49 L2385.26,467.69 L2388.26,467.88 L2391.25,468.08 L2394.25,468.27 L2397.25,468.46 L2400.25,468.65 L2403.25,468.84 L2406.24,469.03 L2409.24,469.22 L2412.24,469.4 L2415.24,469.58 L2418.24,469.76 L2421.23,469.94 L2424.23,470.12 L2427.23,470.3 L2430.23,470.47 L2433.23,470.65 L2436.23,470.82 L2439.23,470.99 L2442.23,471.16 L2445.22,471.32 L2448.22,471.49 L2451.22,471.65 L2454.22,471.81 L2457.22,471.97 L2460.22,472.13 L2463.22,472.29 L2466.22,472.44 L2469.22,472.6 L2472.22,472.75 L2475.22,472.9 L2478.22,473.05 L2481.22,473.19 L2484.22,473.34 L2487.22,473.48 L2490.22,473.62 L2493.22,473.77 L2496.22,473.9 L2499.22,474.04 L2502.22,474.18 L2505.22,474.31 L2508.22,474.44 L2511.22,474.57 L2514.23,474.7 L2517.23,474.83 L2520.23,474.95 L2523.23,475.08 L2526.23,475.2 L2529.23,475.32 L2532.23,475.44 L2535.23,475.55 L2538.23,475.67 L2541.24,475.78 L2544.24,475.89 L2547.24,476 L2550.24,476.11 L2553.24,476.22 L2556.24,476.32 L2559.25,476.43 L2562.25,476.53 L2565.25,476.63 L2568.25,476.72 L2571.25,476.82 L2574.26,476.91 L2577.26,477.01 L2580.26,477.1 L2583.26,477.19 L2586.27,477.27 L2589.27,477.36 L2592.27,477.44 L2595.27,477.53 L2598.28,477.61 L2601.28,477.68 L2604.28,477.76 L2607.28,477.84 L2610.29,477.91 L2613.29,477.98 L2616.29,478.05 L2619.3,478.12 L2622.3,478.19 L2625.3,478.25 L2628.3,478.31 L2631.31,478.37 L2634.31,478.43 L2637.31,478.49 L2640.32,478.55 L2643.32,478.6 L2646.32,478.65 L2649.33,478.7 L2652.33,478.75 L2655.34,478.8 L2658.34,478.84 L2661.34,478.88 L2664.35,478.92 L2667.35,478.96 L2670.35,479 L2673.36,479.04 L2676.36,479.07 L2679.36,479.1 L2682.37,479.13 L2685.37,479.16 L2688.38,479.19 L2690.9,479.21"/>
<path d="M2655.9,321 L2650.63,370.58"/>
<path d="M2685.4,321 L2688.52,321.89 L2691.6,322.9 L2694.62,324.01 L2697.6,325.23 L2700.53,326.56 L2703.41,327.98 L2706.23,329.5 L2708.99,331.11 L2711.69,332.82 L2714.33,334.61 L2716.9,336.49 L2719.41,338.45 L2721.84,340.49 L2724.2,342.61 L2726.49,344.8 L2728.7,347.06 L2730.84,349.39 L2732.89,351.79 L2734.85,354.25 L2736.73,356.76 L2738.52,359.34 L2740.23,361.96 L2741.83,364.64 L2743.34,367.36 L2744.76,370.13 L2746.07,372.94 L2747.28,375.79 L2748.39,378.68 L2749.38,381.6 L2750.27,384.55 L2751.05,387.53 L2751.71,390.53 L2752.25,393.55 L2752.68,396.59 L2752.98,399.65 L2753.17,402.72 L2753.26,405.8 L2753.24,408.9 L2753.12,412 L2752.92,415.11 L2752.63,418.22 L2752.27,421.34 L2751.83,424.46 L2751.34,427.58 L2750.79,430.69 L2750.19,433.81 L2749.55,436.91 L2748.87,440.01 L2748.16,443.11 L2747.43,446.19 L2746.68,449.25 L2745.92,452.31 L2745.69,453.23"/>
<path d="M2690,321 L2826.66,379.31"/>
<path d="M2712.7,321 L2968.89,381.66"/>
<path d="M2851.3,410.4 L2766.13,460"/>
<path d="M2865,410.4 L2840.19,454.65"/>
<path d="M2880.8,410.4 L2907.45,454.86"/>
<path d="M3042.1,410.4 L3063.13,454.23"/>
</g>
<g fill="#191970" stroke="#191970" stroke-width="1.2"><path d="M962.2,124.8 L950.65,114.86 L958.68,109.97 Z"/><path d="M897.4,212.6 L883.98,205.4 L890.77,198.89 Z"/><path d="M918.9,213 L924.57,198.85 L931.79,204.87 Z"/><path d="M55.2,296.1 L67.8,287.53 L70.44,296.55 Z"/><path d="M139.9,295.7 L152.68,287.39 L155.12,296.47 Z"/><path d="M226,295.7 L238.59,287.1 L241.24,296.12 Z"/><path d="M357.8,295.7 L370.26,286.92 L373.04,295.9 Z"/><path d="M443.5,295.7 L455.73,286.61 L458.74,295.51 Z"/><path d="M523,295.7 L535.47,286.93 L538.24,295.91 Z"/><path d="M608,295.7 L620.11,286.44 L623.24,295.3 Z"/><path d="M710.2,295.7 L721.47,285.44 L725.35,294 Z"/><path d="M790,295.7 L800.18,284.35 L804.9,292.48 Z"/><path d="M854.5,295.7 L859.78,281.4 L867.16,287.22 Z"/><path d="M932.3,377.8 L925.31,364.25 L934.59,362.73 Z"/><path d="M985.8,288.5 L971.57,283.04 L977.48,275.73 Z"/><path d="M1135.2,288.5 L1119.97,289.2 L1122.46,280.13 Z"/><path d="M791.6,479.6 L776.93,483.74 L777.29,474.35 Z"/><path d="M1339,290.2 L1323.88,292.16 L1325.61,282.92 Z"/><path d="M1509.3,289 L1494.33,291.88 L1495.49,282.55 Z"/><path d="M1728.9,289.5 L1713.88,292.09 L1715.22,282.79 Z"/><path d="M1925.2,289.5 L1910.29,292.69 L1911.26,283.34 Z"/><path d="M2095.5,289.6 L2080.55,292.57 L2081.65,283.24 Z"/><path d="M2301.6,295.7 L2286.89,299.65 L2287.37,290.26 Z"/><path d="M2578,297.5 L2563.1,300.7 L2564.05,291.35 Z"/><path d="M2802.7,295.7 L2787.52,297.1 L2789.59,287.93 Z"/><path d="M976.8,227.3 L991.39,222.9 L991.2,232.3 Z"/><path d="M999.4,384 L1013.03,377.17 L1014.44,386.46 Z"/><path d="M1191.1,384.8 L1203.23,375.57 L1206.34,384.45 Z"/><path d="M1370.2,377.8 L1373.41,362.9 L1381.54,367.61 Z"/><path d="M1425.5,467.3 L1428.13,452.29 L1436.44,456.69 Z"/><path d="M1405.6,467.3 L1393.62,457.88 L1401.43,452.64 Z"/><path d="M853.4,478.5 L867.41,472.5 L868.27,481.86 Z"/><path d="M1982.7,385 L1994.3,375.12 L1997.9,383.8 Z"/><path d="M2139.6,385.5 L2151.53,376.02 L2154.83,384.82 Z"/><path d="M2221.4,385.5 L2231.56,374.14 L2236.29,382.26 Z"/><path d="M2294.4,385.5 L2299.68,371.2 L2307.06,377.02 Z"/><path d="M2356.3,385.5 L2351.6,371 L2361,371 Z"/><path d="M2420.4,385.5 L2407.56,377.29 L2414.81,371.32 Z"/><path d="M2488.9,385.5 L2474.01,382.25 L2478.75,374.13 Z"/><path d="M2705.4,479.3 L2690.87,483.91 L2690.93,474.51 Z"/><path d="M2649.1,385 L2645.96,370.08 L2655.31,371.08 Z"/><path d="M2742.2,467.3 L2741.13,452.1 L2750.25,454.36 Z"/><path d="M2840,385 L2824.82,383.63 L2828.51,374.99 Z"/><path d="M2983,385 L2967.81,386.23 L2969.97,377.09 Z"/><path d="M2753.6,467.3 L2763.76,455.94 L2768.5,464.06 Z"/><path d="M2833.1,467.3 L2836.09,452.35 L2844.29,456.95 Z"/><path d="M2914.9,467.3 L2903.41,457.28 L2911.48,452.45 Z"/><path d="M3069.4,467.3 L3058.89,456.26 L3067.37,452.19 Z"/></g>
<rect x="786" y="6" width="247" height="69" fill="#bfbfbf" stroke="#000" stroke-width="1.3"/>
<text x="797.4" y="22.05">/home/ryan/src/mlpack.org</text>
<text class="t2" transform="translate(797.4,22.05) scale(1,1.06)">/home/ryan/src/mlpack.org</text>
<text x="797.4" y="36.55">/_src/mlpack-3.1.1/src</text>
<text class="t2" transform="translate(797.4,36.55) scale(1,1.06)">/_src/mlpack-3.1.1/src</text>
<text x="797.4" y="51.05">/mlpack/methods/cf/decomposition</text>
<text class="t2" transform="translate(797.4,51.05) scale(1,1.06)">/mlpack/methods/cf/decomposition</text>
<text x="797.4" y="65.55">_policies/randomized_svd_method.hpp</text>
<text class="t2" transform="translate(797.4,65.55) scale(1,1.06)">_policies/randomized_svd_method.hpp</text>
<rect x="881.2" y="124.5" width="189.4" height="40" fill="#fff" stroke="#000" stroke-width="1.3"/>
<text x="975.9" y="140.85" text-anchor="middle">mlpack/methods/randomized</text>
<text class="t2" transform="translate(975.9,140.85) scale(1,1.06)" text-anchor="middle">mlpack/methods/randomized</text>
<text x="975.9" y="154.75" text-anchor="middle">_svd/randomized_svd.hpp</text>
<text class="t2" transform="translate(975.9,154.75) scale(1,1.06)" text-anchor="middle">_svd/randomized_svd.hpp</text>
<rect x="841.6" y="214" width="135.7" height="25" fill="#fff" stroke="#000" stroke-width="1.3"/>
<text x="909.45" y="229.8" text-anchor="middle">mlpack/prereqs.hpp</text>
<text class="t2" transform="translate(909.45,229.8) scale(1,1.06)" text-anchor="middle">mlpack/prereqs.hpp</text>
<rect x="5.5" y="296" width="58.6" height="25" fill="#fff" stroke="#bfbfbf" stroke-width="1.3"/>
<text x="34.8" y="311.8" text-anchor="middle">cmath</text>
<text class="t2" transform="translate(34.8,311.8) scale(1,1.06)" text-anchor="middle">cmath</text>
<rect x="88.3" y="296" width="60.4" height="25" fill="#fff" stroke="#bfbfbf" stroke-width="1.3"/>
<text x="118.5" y="311.8" text-anchor="middle">cstdlib</text>
<text class="t2" transform="translate(118.5,311.8) scale(1,1.06)" text-anchor="middle">cstdlib</text>
<rect x="172.2" y="296" width="58" height="25" fill="#fff" stroke="#bfbfbf" stroke-width="1.3"/>
<text x="201.2" y="311.8" text-anchor="middle">cstdio</text>
<text class="t2" transform="translate(201.2,311.8) scale(1,1.06)" text-anchor="middle">cstdio</text>
<rect x="305.1" y="296" width="61.6" height="25" fill="#fff" stroke="#bfbfbf" stroke-width="1.3"/>
<text x="335.9" y="311.8" text-anchor="middle">cctype</text>
<text class="t2" transform="translate(335.9,311.8) scale(1,1.06)" text-anchor="middle">cctype</text>
<rect x="391.1" y="296" width="60" height="25" fill="#fff" stroke="#bfbfbf" stroke-width="1.3"/>
<text x="421.1" y="311.8" text-anchor="middle">climits</text>
<text class="t2" transform="translate(421.1,311.8) scale(1,1.06)" text-anchor="middle">climits</text>
<rect x="475" y="296" width="55" height="25" fill="#fff" stroke="#bfbfbf" stroke-width="1.3"/>
<text x="502.5" y="311.8" text-anchor="middle">cfloat</text>
<text class="t2" transform="translate(502.5,311.8) scale(1,1.06)" text-anchor="middle">cfloat</text>
<rect x="554.4" y="296" width="61.9" height="25" fill="#fff" stroke="#bfbfbf" stroke-width="1.3"/>
<text x="585.35" y="311.8" text-anchor="middle">cstdint</text>
<text class="t2" transform="translate(585.35,311.8) scale(1,1.06)" text-anchor="middle">cstdint</text>
<rect x="640.4" y="296" width="79" height="25" fill="#fff" stroke="#bfbfbf" stroke-width="1.3"/>
<text x="679.9" y="311.8" text-anchor="middle">stdexcept</text>
<text class="t2" transform="translate(679.9,311.8) scale(1,1.06)" text-anchor="middle">stdexcept</text>
<rect x="743.5" y="296" width="51" height="25" fill="#fff" stroke="#bfbfbf" stroke-width="1.3"/>
<text x="769" y="311.8" text-anchor="middle">tuple</text>
<text class="t2" transform="translate(769,311.8) scale(1,1.06)" text-anchor="middle">tuple</text>
<rect x="818.2" y="296" width="54" height="25" fill="#fff" stroke="#bfbfbf" stroke-width="1.3"/>
<text x="845.2" y="311.8" text-anchor="middle">utility</text>
<text class="t2" transform="translate(845.2,311.8) scale(1,1.06)" text-anchor="middle">utility</text>
<rect x="947.2" y="288.5" width="127" height="39.8" fill="#fff" stroke="#bfbfbf" stroke-width="1.3"/>
<text x="1010.7" y="304.75" text-anchor="middle">boost/serialization</text>
<text class="t2" transform="translate(1010.7,304.75) scale(1,1.06)" text-anchor="middle">boost/serialization</text>
<text x="1010.7" y="318.65" text-anchor="middle">/map.hpp</text>
<text class="t2" transform="translate(1010.7,318.65) scale(1,1.06)" text-anchor="middle">/map.hpp</text>
<rect x="1098.4" y="288.5" width="216" height="39.8" fill="#fff" stroke="#bfbfbf" stroke-width="1.3"/>
<text x="1109" y="304.75">mlpack/core/boost_backport</text>
<text class="t2" transform="translate(1109,304.75) scale(1,1.06)">mlpack/core/boost_backport</text>
<text x="1109" y="318.65">/boost_backport_serialization.hpp</text>
<text class="t2" transform="translate(1109,318.65) scale(1,1.06)">/boost_backport_serialization.hpp</text>
<rect x="1337.9" y="288.5" width="147.5" height="39.8" fill="#fff" stroke="#000" stroke-width="1.3"/>
<text x="1411.65" y="304.75" text-anchor="middle">mlpack/core/data/has</text>
<text class="t2" transform="translate(1411.65,304.75) scale(1,1.06)" text-anchor="middle">mlpack/core/data/has</text>
<text x="1411.65" y="318.65" text-anchor="middle">_serialize.hpp</text>
<text class="t2" transform="translate(1411.65,318.65) scale(1,1.06)" text-anchor="middle">_serialize.hpp</text>
<rect x="1509.3" y="288.5" width="195" height="39.8" fill="#fff" stroke="#000" stroke-width="1.3"/>
<text x="1606.8" y="304.75" text-anchor="middle">mlpack/core/data/serialization</text>
<text class="t2" transform="translate(1606.8,304.75) scale(1,1.06)" text-anchor="middle">mlpack/core/data/serialization</text>
<text x="1606.8" y="318.65" text-anchor="middle">_template_version.hpp</text>
<text class="t2" transform="translate(1606.8,318.65) scale(1,1.06)" text-anchor="middle">_template_version.hpp</text>
<rect x="1728.6" y="288.5" width="171.7" height="39.8" fill="#fff" stroke="#bfbfbf" stroke-width="1.3"/>
<text x="1814.45" y="304.75" text-anchor="middle">mlpack/core/arma_extend</text>
<text class="t2" transform="translate(1814.45,304.75) scale(1,1.06)" text-anchor="middle">mlpack/core/arma_extend</text>
<text x="1814.45" y="318.65" text-anchor="middle">/arma_extend.hpp</text>
<text class="t2" transform="translate(1814.45,318.65) scale(1,1.06)" text-anchor="middle">/arma_extend.hpp</text>
<rect x="1924.8" y="288.5" width="146.9" height="39.8" fill="#fff" stroke="#000" stroke-width="1.3"/>
<text x="1998.25" y="304.75" text-anchor="middle">mlpack/core/util/arma</text>
<text class="t2" transform="translate(1998.25,304.75) scale(1,1.06)" text-anchor="middle">mlpack/core/util/arma</text>
<text x="1998.25" y="318.65" text-anchor="middle">_traits.hpp</text>
<text class="t2" transform="translate(1998.25,318.65) scale(1,1.06)" text-anchor="middle">_traits.hpp</text>
<rect x="2095.7" y="288.5" width="146.8" height="39.8" fill="#fff" stroke="#000" stroke-width="1.3"/>
<text x="2169.1" y="304.75" text-anchor="middle">mlpack/core/util/arma</text>
<text class="t2" transform="translate(2169.1,304.75) scale(1,1.06)" text-anchor="middle">mlpack/core/util/arma</text>
<text x="2169.1" y="318.65" text-anchor="middle">_config_check.hpp</text>
<text class="t2" transform="translate(2169.1,318.65) scale(1,1.06)" text-anchor="middle">_config_check.hpp</text>
<rect x="2266.5" y="296" width="179" height="25" fill="#fff" stroke="#000" stroke-width="1.3"/>
<text x="2356" y="311.8" text-anchor="middle">mlpack/core/util/timers.hpp</text>
<text class="t2" transform="translate(2356,311.8) scale(1,1.06)" text-anchor="middle">mlpack/core/util/timers.hpp</text>
<rect x="2577" y="296" width="160.3" height="25" fill="#fff" stroke="#000" stroke-width="1.3"/>
<text x="2657.15" y="311.8" text-anchor="middle">mlpack/core/util/log.hpp</text>
<text class="t2" transform="translate(2657.15,311.8) scale(1,1.06)" text-anchor="middle">mlpack/core/util/log.hpp</text>
<rect x="2761.5" y="296" width="207.2" height="25" fill="#fff" stroke="#000" stroke-width="1.3"/>
<text x="2865.1" y="311.8" text-anchor="middle">mlpack/core/util/deprecated.hpp</text>
<text class="t2" transform="translate(2865.1,311.8) scale(1,1.06)" text-anchor="middle">mlpack/core/util/deprecated.hpp</text>
<rect x="872.4" y="377.8" width="127" height="40" fill="#fff" stroke="#bfbfbf" stroke-width="1.3"/>
<text x="935.9" y="394.15" text-anchor="middle">boost/serialization</text>
<text class="t2" transform="translate(935.9,394.15) scale(1,1.06)" text-anchor="middle">boost/serialization</text>
<text x="935.9" y="408.05" text-anchor="middle">/serialization.hpp</text>
<text class="t2" transform="translate(935.9,408.05) scale(1,1.06)" text-anchor="middle">/serialization.hpp</text>
<rect x="1051.2" y="385.3" width="206.6" height="25.3" fill="#fff" stroke="#bfbfbf" stroke-width="1.3"/>
<text x="1154.5" y="401.25" text-anchor="middle">boost/archive/xml_oarchive.hpp</text>
<text class="t2" transform="translate(1154.5,401.25) scale(1,1.06)" text-anchor="middle">boost/archive/xml_oarchive.hpp</text>
<rect x="1281.7" y="377.8" width="153.7" height="40" fill="#fff" stroke="#000" stroke-width="1.3"/>
<text x="1358.55" y="394.15" text-anchor="middle">mlpack/core/util/sfinae</text>
<text class="t2" transform="translate(1358.55,394.15) scale(1,1.06)" text-anchor="middle">mlpack/core/util/sfinae</text>
<text x="1358.55" y="408.05" text-anchor="middle">_utility.hpp</text>
<text class="t2" transform="translate(1358.55,408.05) scale(1,1.06)" text-anchor="middle">_utility.hpp</text>
<rect x="1891" y="385.3" width="119.2" height="25.3" fill="#fff" stroke="#000" stroke-width="1.3"/>
<text x="1950.6" y="401.25" text-anchor="middle">arma_config.hpp</text>
<text class="t2" transform="translate(1950.6,401.25) scale(1,1.06)" text-anchor="middle">arma_config.hpp</text>
<rect x="2085.1" y="385.3" width="61.5" height="25.3" fill="#fff" stroke="#bfbfbf" stroke-width="1.3"/>
<text x="2115.85" y="401.25" text-anchor="middle">chrono</text>
<text class="t2" transform="translate(2115.85,401.25) scale(1,1.06)" text-anchor="middle">chrono</text>
<rect x="2170.5" y="385.3" width="58.7" height="25.3" fill="#fff" stroke="#bfbfbf" stroke-width="1.3"/>
<text x="2199.85" y="401.25" text-anchor="middle">thread</text>
<text class="t2" transform="translate(2199.85,401.25) scale(1,1.06)" text-anchor="middle">thread</text>
<rect x="2253.1" y="385.3" width="59" height="25.3" fill="#fff" stroke="#bfbfbf" stroke-width="1.3"/>
<text x="2282.6" y="401.25" text-anchor="middle">mutex</text>
<text class="t2" transform="translate(2282.6,401.25) scale(1,1.06)" text-anchor="middle">mutex</text>
<rect x="2336.3" y="385.3" width="39.2" height="25.3" fill="#fff" stroke="#bfbfbf" stroke-width="1.3"/>
<text x="2355.9" y="401.25" text-anchor="middle">list</text>
<text class="t2" transform="translate(2355.9,401.25) scale(1,1.06)" text-anchor="middle">list</text>
<rect x="2399.7" y="385.3" width="61.5" height="25.3" fill="#fff" stroke="#bfbfbf" stroke-width="1.3"/>
<text x="2430.45" y="401.25" text-anchor="middle">atomic</text>
<text class="t2" transform="translate(2430.45,401.25) scale(1,1.06)" text-anchor="middle">atomic</text>
<rect x="2485.8" y="385.3" width="46.9" height="25.3" fill="#fff" stroke="#bfbfbf" stroke-width="1.3"/>
<text x="2509.25" y="401.25" text-anchor="middle">map</text>
<text class="t2" transform="translate(2509.25,401.25) scale(1,1.06)" text-anchor="middle">map</text>
<rect x="2557.2" y="385.3" width="178.8" height="25.3" fill="#fff" stroke="#bfbfbf" stroke-width="1.3"/>
<text x="2646.6" y="401.25" text-anchor="middle">mlpack/mlpack_export.hpp</text>
<text class="t2" transform="translate(2646.6,401.25) scale(1,1.06)" text-anchor="middle">mlpack/mlpack_export.hpp</text>
<rect x="2810.4" y="385.3" width="125.7" height="25.3" fill="#fff" stroke="#000" stroke-width="1.3"/>
<text x="2873.25" y="401.25" text-anchor="middle">nulloutstream.hpp</text>
<text class="t2" transform="translate(2873.25,401.25) scale(1,1.06)" text-anchor="middle">nulloutstream.hpp</text>
<rect x="2960.3" y="385.3" width="151.2" height="25.3" fill="#fff" stroke="#000" stroke-width="1.3"/>
<text x="3035.9" y="401.25" text-anchor="middle">prefixedoutstream.hpp</text>
<text class="t2" transform="translate(3035.9,401.25) scale(1,1.06)" text-anchor="middle">prefixedoutstream.hpp</text>
<rect x="791.6" y="467.3" width="61.8" height="25.2" fill="#fff" stroke="#bfbfbf" stroke-width="1.3"/>
<text x="822.5" y="483.2" text-anchor="middle">cstring</text>
<text class="t2" transform="translate(822.5,483.2) scale(1,1.06)" text-anchor="middle">cstring</text>
<rect x="1374.5" y="467.3" width="82.6" height="25.2" fill="#fff" stroke="#bfbfbf" stroke-width="1.3"/>
<text x="1415.8" y="483.2" text-anchor="middle">type_traits</text>
<text class="t2" transform="translate(1415.8,483.2) scale(1,1.06)" text-anchor="middle">type_traits</text>
<rect x="2704.4" y="467.3" width="55.2" height="25.2" fill="#fff" stroke="#bfbfbf" stroke-width="1.3"/>
<text x="2732" y="483.2" text-anchor="middle">string</text>
<text class="t2" transform="translate(2732,483.2) scale(1,1.06)" text-anchor="middle">string</text>
<rect x="2783.6" y="467.3" width="80.6" height="25.2" fill="#fff" stroke="#bfbfbf" stroke-width="1.3"/>
<text x="2823.9" y="483.2" text-anchor="middle">streambuf</text>
<text class="t2" transform="translate(2823.9,483.2) scale(1,1.06)" text-anchor="middle">streambuf</text>
<rect x="2887.8" y="467.3" width="72.5" height="25.2" fill="#fff" stroke="#bfbfbf" stroke-width="1.3"/>
<text x="2924.05" y="483.2" text-anchor="middle">iostream</text>
<text class="t2" transform="translate(2924.05,483.2) scale(1,1.06)" text-anchor="middle">iostream</text>
<rect x="2984.4" y="467.3" width="182.8" height="25.2" fill="#fff" stroke="#bfbfbf" stroke-width="1.3"/>
<text x="3075.8" y="483.2" text-anchor="middle">prefixedoutstream_impl.hpp</text>
<text class="t2" transform="translate(3075.8,483.2) scale(1,1.06)" text-anchor="middle">prefixedoutstream_impl.hpp</text>
</svg></body></html>
